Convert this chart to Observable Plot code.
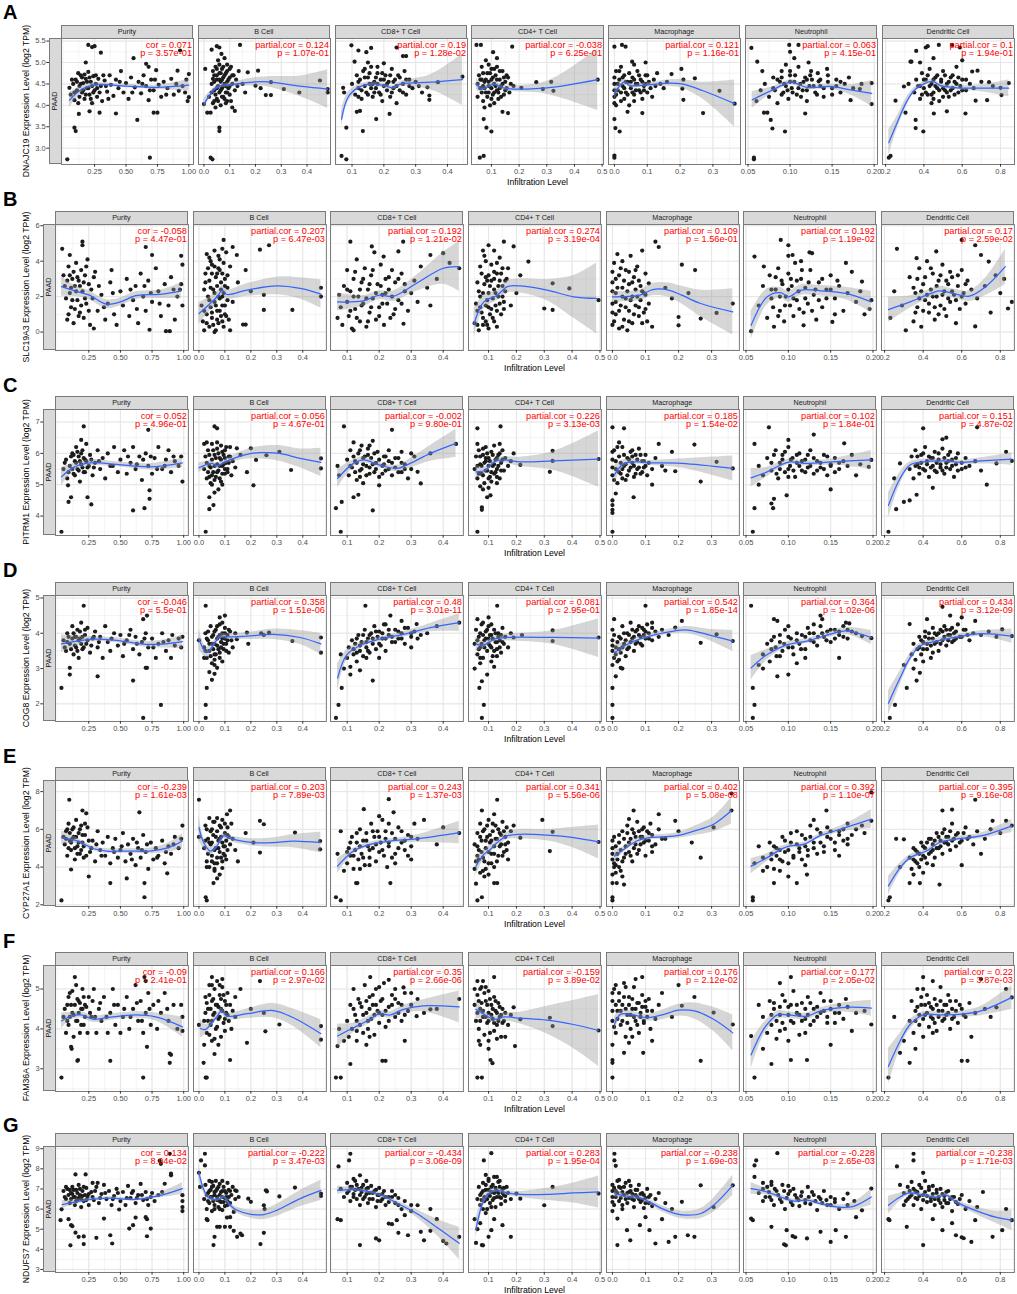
<!DOCTYPE html>
<html><head><meta charset="utf-8">
<script src="https://cdn.jsdelivr.net/npm/d3@7"></script>
<script src="https://cdn.jsdelivr.net/npm/@observablehq/plot@0.6"></script>
<style>
body{margin:0;background:#fff;font-family:"Liberation Sans",Arial,Helvetica,sans-serif;}
#fig{position:relative;width:1017px;height:1294px;overflow:hidden;background:#fff;}
#fig svg{position:absolute;overflow:visible;}
.t{position:absolute;white-space:nowrap;}
.strip{position:absolute;box-sizing:border-box;background:#D9D9D9;border:1px solid #7a7a7a;color:#1a1a1a;font-size:7.2px;text-align:center;line-height:11px;}
</style></head><body><div id="fig"></div>
<script>
// ---------- labels ----------
const letters = ["A","B","C","D","E","F","G"];
const genes = ["DNAJC19","SLC19A3","PITRM1","COG8","CYP27A1","FAM36A","NDUFS7"];
const cellTypes = ["Purity","B Cell","CD8+ T Cell","CD4+ T Cell","Macrophage","Neutrophil","Dendritic Cell"];
const cancer = "PAAD";
const xTitle = "Infiltration Level";

// ---------- scales / ticks ----------
const xDomains = [[-0.013,1.037],[-0.021,0.491],[0.048,0.463],[0.028,0.505],[-0.018,0.384],[0.047,0.204],[0.184,0.873]];
const xTicks = [[0.25,0.5,0.75,1.0],[0,0.1,0.2,0.3,0.4],[0.1,0.2,0.3,0.4],[0.1,0.2,0.3,0.4,0.5],[0,0.1,0.2,0.3],[0.05,0.1,0.15,0.2],[0.2,0.4,0.6,0.8]];
const xTickFormats = [".2f",".1f",".1f",".1f",".1f",".2f",".1f"];
const yDomains = [[2.62,5.56],[-1.04,6.07],[3.38,7.40],[1.50,5.07],[1.91,8.59],[2.43,5.59],[2.85,9.11]];
const yTicks = [[3,3.5,4,4.5,5,5.5],[0,2,4,6],[4,5,6,7],[2,3,4,5],[2,4,6,8],[3,4,5],[3,4,5,6,7,8,9]];
const yTickFormats = [".1f","d","d","d","d","d","d"];

// ---------- correlation annotations ----------
const corA = ["0.071","0.124","0.19","-0.038","0.121","0.063","0.1"];
const pA   = ["3.57e-01","1.07e-01","1.28e-02","6.25e-01","1.16e-01","4.15e-01","1.94e-01"];
const corB = ["-0.058","0.207","0.192","0.274","0.109","0.192","0.17"];
const pB   = ["4.47e-01","6.47e-03","1.21e-02","3.19e-04","1.56e-01","1.19e-02","2.59e-02"];
const corC = ["0.052","0.056","-0.002","0.226","0.185","0.102","0.151"];
const pC   = ["4.96e-01","4.67e-01","9.80e-01","3.13e-03","1.54e-02","1.84e-01","4.87e-02"];
const corD = ["-0.046","0.358","0.48","0.081","0.542","0.364","0.434"];
const pD   = ["5.5e-01","1.51e-06","3.01e-11","2.95e-01","1.85e-14","1.02e-06","3.12e-09"];
const corE = ["-0.239","0.203","0.243","0.341","0.402","0.392","0.395"];
const pE   = ["1.61e-03","7.89e-03","1.37e-03","5.56e-06","5.08e-08","1.10e-07","9.16e-08"];
const corF = ["-0.09","0.166","0.35","-0.159","0.176","0.177","0.22"];
const pF   = ["2.41e-01","2.97e-02","2.66e-06","3.89e-02","2.12e-02","2.05e-02","3.87e-03"];
const corG = ["0.134","-0.222","-0.434","0.283","-0.238","-0.228","-0.238"];
const pG   = ["8.04e-02","3.47e-03","3.06e-09","1.95e-04","1.69e-03","2.65e-03","1.71e-03"];

// ---------- points [x,y, x,y, ...] ----------
const ptsA0=[0.033,2.74,0.09,3.48,0.10,3.40,0.125,3.80,0.21,3.86,0.29,3.83,0.42,3.81,0.59,3.66,0.69,2.78,0.72,3.83,0.75,3.83,0.20,5.41,0.23,5.36,0.25,5.38,0.30,5.23,0.18,5.00,0.56,5.10,0.66,4.97,0.68,4.90,0.93,5.28,1.0,4.73,1.0,4.19,0.99,4.10,0.91,4.81,0.92,4.34,0.05,4.41,0.06,4.25,0.08,4.5,0.09,4.12,0.1,4.6,0.11,4.35,0.12,4.05,0.13,4.45,0.14,4.7,0.15,4.3,0.16,4.52,0.17,4.15,0.18,4.62,0.19,4.4,0.2,4.78,0.21,4.25,0.22,4.55,0.23,4.05,0.24,4.68,0.25,4.35,0.26,4.5,0.27,4.2,0.28,4.62,0.3,4.45,0.31,4.1,0.33,4.58,0.35,4.32,0.37,4.7,0.38,4.48,0.4,4.22,0.42,4.6,0.44,4.4,0.46,4.8,0.48,4.3,0.5,4.52,0.52,4.15,0.54,4.65,0.57,4.42,0.6,4.55,0.62,4.28,0.64,4.7,0.66,4.45,0.68,4.12,0.7,4.6,0.72,4.35,0.74,4.82,0.76,4.48,0.78,4.2,0.8,4.55,0.83,4.4,0.86,4.62,0.88,4.25,0.95,4.45,0.98,4.6,0.97,4.3,
 0.07,4.6,0.09,4.3,0.11,4.55,0.12,4.75,0.13,4.2,0.14,4.5,0.15,4.65,0.16,4.35,0.17,4.72,0.18,4.25,0.19,4.55,0.2,4.4,0.21,4.65,0.22,4.15,0.23,4.45,0.24,4.3,0.26,4.7,0.27,4.4,0.29,4.3,0.32,4.7,0.34,4.45,0.36,4.15,0.45,4.55,0.55,4.3,0.63,4.5,0.69,4.35,0.73,4.6,0.82,4.25,0.9,4.5];
const ptsA1=[0.026,2.78,0.033,2.74,0.06,3.48,0.06,3.40,0.013,3.83,0.026,3.83,0.12,3.87,0.14,5.41,0.17,4.77,0.2,4.46,0.21,4.81,0.22,4.4,0.24,4.24,0.26,4.24,0.26,4.54,0.31,4.38,0.37,4.30,0.45,4.58,0.48,4.38,0.48,4.30,0.0,4.03,0.03,5.3,0.05,5.38,0.06,5.35,0.005,4.85,0.02,4.2,0.03,4.5,0.035,4.05,0.04,4.7,0.04,4.35,0.045,4.9,0.05,4.15,0.05,4.6,0.055,4.45,0.055,5.05,0.06,4.3,0.06,4.75,0.065,4.55,0.065,4.0,0.07,4.4,0.07,4.85,0.075,4.2,0.075,4.65,0.08,4.5,0.08,5.1,0.085,4.3,0.085,4.75,0.09,4.55,0.09,4.1,0.095,4.4,0.1,4.65,0.1,4.25,0.105,4.9,0.11,4.5,0.11,3.95,0.115,4.7,0.12,4.35,0.125,4.6,0.13,4.45,0.135,4.8,0.15,4.5,0.16,4.3,0.045,3.95,0.035,4.62,0.068,5.2,0.09,4.95,
 0.03,4.3,0.035,4.8,0.04,4.55,0.045,4.25,0.05,4.85,0.05,4.4,0.055,4.1,0.06,4.6,0.06,4.95,0.065,4.35,0.07,4.2,0.07,4.6,0.075,4.45,0.075,4.9,0.08,4.15,0.08,4.7,0.085,4.45,0.09,4.3,0.09,4.8,0.095,4.6,0.1,4.45,0.105,4.1,0.11,4.7,0.04,4.1,0.065,4.75,0.085,4.05,0.05,4.7,0.1,4.85];
const ptsA2=[0.067,2.82,0.082,2.74,0.082,3.48,0.134,3.40,0.176,3.68,0.218,3.80,0.098,5.40,0.12,5.28,0.145,5.24,0.16,5.34,0.108,5.02,0.072,4.41,0.075,4.3,0.337,4.42,0.343,4.23,0.343,4.13,0.37,4.54,0.447,4.67,0.115,3.85,0.125,3.87,0.24,5.35,0.26,5.15,0.27,5.15,0.1,4.5,0.11,4.25,0.115,4.7,0.12,4.4,0.125,4.6,0.13,4.15,0.135,4.8,0.14,4.45,0.145,4.3,0.15,4.65,0.155,4.5,0.16,4.9,0.165,4.2,0.17,4.55,0.175,4.4,0.18,4.75,0.185,4.3,0.19,4.6,0.195,4.1,0.2,4.45,0.205,4.7,0.21,4.35,0.215,4.55,0.22,4.2,0.225,4.85,0.23,4.4,0.235,4.6,0.24,4.05,0.245,4.7,0.25,4.35,0.26,4.5,0.265,4.8,0.27,4.25,0.28,4.6,0.29,4.4,0.3,4.55,0.31,4.45,0.32,4.3,0.15,5.0,0.2,4.98,
 0.12,4.55,0.13,4.35,0.14,4.65,0.15,4.25,0.155,4.75,0.16,4.4,0.17,4.3,0.175,4.65,0.18,4.5,0.19,4.25,0.195,4.75,0.2,4.6,0.21,4.5,0.22,4.7,0.225,4.3,0.23,4.55,0.24,4.45,0.25,4.65,0.26,4.3,0.27,4.6,0.28,4.45,0.14,4.85,0.18,4.9,0.12,4.2,0.165,4.5];
const ptsA3=[0.058,2.78,0.072,2.82,0.072,3.68,0.082,3.48,0.1,3.39,0.046,5.41,0.062,5.41,0.175,5.37,0.106,5.24,0.208,4.41,0.262,4.54,0.286,4.38,0.316,4.55,0.324,4.34,0.484,4.60,0.05,4.5,0.08,5.05,0.12,5.1,0.14,3.85,0.16,3.82,0.05,4.2,0.055,4.7,0.06,4.4,0.065,4.9,0.07,4.1,0.075,4.55,0.08,4.3,0.085,4.75,0.09,4.45,0.095,4.0,0.1,4.6,0.1,4.85,0.105,4.25,0.11,4.5,0.115,4.7,0.12,4.35,0.125,4.15,0.13,4.6,0.135,4.45,0.14,4.8,0.145,4.25,0.15,4.55,0.155,4.4,0.16,4.65,0.165,4.3,0.17,4.5,0.18,4.45,0.09,4.95,0.065,4.6,0.11,4.05,0.075,3.95,0.12,4.9,
 0.06,4.6,0.065,4.3,0.07,4.75,0.075,4.4,0.08,4.6,0.085,4.2,0.09,4.55,0.09,4.3,0.095,4.75,0.1,4.4,0.105,4.65,0.11,4.3,0.11,4.85,0.115,4.45,0.12,4.6,0.125,4.3,0.13,4.8,0.135,4.2,0.14,4.5,0.145,4.65,0.15,4.35,0.155,4.7,0.07,4.45,0.1,4.15,0.13,4.4];
const ptsA4=[0.0,2.78,0.0,2.83,0.0,3.68,0.003,3.47,0.016,3.39,0.0,5.37,0.023,5.41,0.034,5.37,0.054,5.02,0.095,5.0,0.174,4.73,0.204,4.85,0.21,4.6,0.207,4.39,0.21,4.13,0.245,4.63,0.27,3.82,0.32,4.34,0.366,4.04,0.04,3.85,0.085,3.82,0.13,4.75,0.15,4.4,0.0,4.2,0.0,4.5,0.005,4.8,0.01,4.35,0.015,4.6,0.02,4.1,0.025,4.45,0.03,4.7,0.035,4.3,0.04,4.55,0.045,4.0,0.05,4.4,0.055,4.65,0.06,4.25,0.065,4.5,0.07,4.8,0.075,4.35,0.08,4.6,0.085,4.15,0.09,4.45,0.095,4.7,0.1,4.3,0.105,4.55,0.11,4.4,0.115,4.2,0.12,4.6,0.125,4.45,0.14,4.5,0.16,4.55,0.02,4.9,0.06,4.95,0.005,4.0,
 0.0,4.35,0.0,4.65,0.005,4.25,0.01,4.5,0.015,4.8,0.02,4.3,0.025,4.65,0.03,4.4,0.035,4.55,0.04,4.25,0.045,4.75,0.05,4.55,0.055,4.3,0.06,4.6,0.065,4.35,0.07,4.5,0.075,4.7,0.08,4.3,0.085,4.55,0.09,4.35,0.095,4.5,0.1,4.7,0.03,4.15,0.06,4.1,0.0,4.05];
const ptsA5=[0.057,2.78,0.057,2.74,0.054,5.34,0.061,5.02,0.067,4.8,0.069,3.83,0.073,3.83,0.077,3.66,0.079,3.46,0.094,3.39,0.099,5.41,0.11,5.41,0.1,5.25,0.105,5.1,0.122,5.0,0.118,3.81,0.144,4.85,0.172,4.12,0.183,4.38,0.197,4.52,0.197,4.03,0.134,4.56,0.06,4.1,0.065,4.35,0.07,4.5,0.075,4.2,0.08,4.65,0.082,4.35,0.085,4.05,0.088,4.55,0.09,4.8,0.092,4.3,0.095,4.45,0.098,4.15,0.1,4.7,0.102,4.4,0.105,4.55,0.108,4.25,0.11,4.9,0.112,4.5,0.115,4.35,0.118,4.65,0.12,4.1,0.123,4.45,0.126,4.6,0.13,4.3,0.133,4.75,0.136,4.45,0.14,4.2,0.145,4.55,0.15,4.4,0.155,4.6,0.16,4.3,0.165,4.5,0.17,4.65,0.175,4.4,0.185,4.5,0.095,4.95,0.125,4.8,
 0.08,4.4,0.085,4.6,0.09,4.25,0.093,4.5,0.097,4.35,0.1,4.55,0.103,4.3,0.106,4.7,0.11,4.4,0.113,4.2,0.116,4.55,0.12,4.35,0.124,4.7,0.128,4.45,0.132,4.25,0.136,4.6,0.14,4.4,0.145,4.7,0.15,4.25,0.155,4.45,0.1,4.8,0.12,4.6,0.09,4.65,0.16,4.55];
const ptsA6=[0.217,2.78,0.226,2.82,0.252,4.11,0.296,4.44,0.304,3.83,0.357,3.66,0.357,3.47,0.397,3.39,0.33,5.02,0.335,5.02,0.36,5.27,0.41,5.35,0.42,5.38,0.478,5.41,0.547,5.41,0.588,5.35,0.652,4.79,0.68,4.81,0.67,4.11,0.73,4.12,0.74,4.54,0.80,4.41,0.843,4.52,0.805,4.24,0.617,3.81,0.52,3.86,0.452,3.81,0.38,5.0,0.45,5.1,0.6,5.05,0.35,4.3,0.36,4.6,0.37,4.45,0.38,4.15,0.39,4.75,0.4,4.4,0.41,4.6,0.42,4.25,0.43,4.85,0.44,4.5,0.45,4.3,0.46,4.65,0.47,4.4,0.48,4.1,0.49,4.55,0.5,4.8,0.51,4.35,0.52,4.5,0.53,4.2,0.54,4.65,0.55,4.4,0.56,4.55,0.57,4.9,0.58,4.3,0.59,4.45,0.6,4.6,0.62,4.35,0.64,4.5,0.66,4.4,0.7,4.55,0.76,4.45,0.32,4.5,0.44,4.05,
 0.38,4.45,0.39,4.25,0.4,4.6,0.41,4.3,0.42,4.7,0.43,4.45,0.44,4.25,0.45,4.6,0.46,4.45,0.47,4.7,0.48,4.35,0.49,4.6,0.5,4.4,0.51,4.7,0.52,4.3,0.53,4.55,0.54,4.35,0.55,4.7,0.56,4.25,0.57,4.5,0.58,4.65,0.6,4.35,0.62,4.6,0.45,4.15,0.5,4.2];

const ptsB0=[0.2,5.1,0.2,4.9,0.04,4.7,0.1,4.35,0.43,3.5,0.29,0.2,0.7,4.8,0.75,4.35,0.86,0.05,0.89,0.05,0.73,0.13,0.98,4.3,0.99,3.8,0.98,2.7,0.99,1.5,0.05,3.2,0.06,2.6,0.07,1.9,0.08,0.7,0.09,3.7,0.1,2.2,0.11,1.4,0.12,3.0,0.13,0.5,0.14,2.6,0.15,3.9,0.16,1.8,0.17,2.9,0.18,1.1,0.19,3.5,0.2,2.3,0.21,0.8,0.22,3.2,0.23,1.6,0.24,4.1,0.25,2.7,0.26,0.4,0.28,1.9,0.3,3.4,0.32,1.2,0.35,2.1,0.38,0.7,0.4,1.6,0.42,2.8,0.45,1.0,0.47,0.4,0.5,2.3,0.52,1.5,0.55,3.0,0.57,0.9,0.6,1.8,0.62,2.6,0.64,0.5,0.66,3.3,0.68,2.0,0.7,1.2,0.72,2.9,0.75,1.7,0.78,3.6,0.8,2.3,0.82,0.9,0.85,2.7,0.88,1.5,0.9,3.1,0.93,0.7,0.95,2.0,0.97,2.4,
 0.08,2.9,0.09,1.0,0.1,3.2,0.11,2.5,0.12,1.8,0.13,3.4,0.14,1.3,0.15,2.3,0.16,3.1,0.17,0.9,0.18,2.6,0.19,1.5,0.21,2.8,0.22,1.9,0.23,3.7,0.25,1.2,0.27,2.4,0.29,3.1,0.33,2.6,0.37,1.4,0.44,2.2,0.58,2.4,0.63,1.3,0.69,2.6,0.74,2.2,0.81,1.6,0.92,2.4];
const ptsB1=[0.095,5.2,0.13,4.8,0.146,4.35,0.18,3.5,0.18,0.42,0.17,0.42,0.25,2.1,0.25,1.25,0.36,1.25,0.47,2.5,0.47,2.0,0.235,4.65,0.27,4.9,0.15,2.8,0.13,1.7,0.2,2.3,0.12,0.1,0.01,1.5,0.015,0.6,0.02,2.4,0.025,3.3,0.03,1.0,0.03,4.4,0.035,2.0,0.04,0.3,0.04,2.9,0.045,1.4,0.05,3.8,0.05,0.8,0.055,2.4,0.06,1.7,0.06,4.6,0.065,0.1,0.065,3.1,0.07,1.2,0.07,2.6,0.075,0.5,0.075,3.6,0.08,1.9,0.08,4.1,0.085,0.9,0.085,2.8,0.09,1.5,0.09,3.3,0.095,0.3,0.095,2.2,0.1,1.0,0.1,3.0,0.105,4.5,0.11,1.8,0.11,2.5,0.115,0.7,0.12,3.7,0.02,0.1,0.045,4.0,0.06,0.0,0.09,4.7,
 0.02,1.2,0.025,2.8,0.03,0.5,0.035,3.6,0.04,1.8,0.045,2.5,0.05,1.1,0.05,3.3,0.055,0.4,0.06,2.2,0.06,3.7,0.065,1.5,0.07,0.7,0.07,3.3,0.075,2.0,0.08,1.2,0.08,3.5,0.085,2.4,0.09,0.6,0.09,2.0,0.095,3.9,0.1,1.5,0.1,2.6,0.105,0.9,0.11,3.2,0.04,4.2,0.075,4.3];
const ptsB2=[0.11,5.1,0.177,4.83,0.214,4.26,0.26,4.55,0.275,5.1,0.36,4.35,0.4,4.45,0.45,3.6,0.36,1.5,0.3,2.2,0.276,0.47,0.12,0.1,0.07,0.8,0.075,2.1,0.08,1.4,0.085,0.4,0.09,2.6,0.1,1.7,0.1,3.5,0.105,0.9,0.11,2.3,0.115,0.2,0.12,3.0,0.125,1.3,0.13,4.1,0.135,2.0,0.14,0.6,0.145,2.8,0.15,1.6,0.155,3.6,0.16,0.3,0.165,2.4,0.17,1.1,0.175,3.2,0.18,1.9,0.185,4.5,0.19,0.7,0.195,2.7,0.2,1.4,0.205,3.8,0.21,2.1,0.215,0.4,0.22,3.0,0.225,1.6,0.23,2.4,0.24,3.5,0.245,1.0,0.25,2.8,0.26,1.8,0.27,3.3,0.28,2.3,0.29,1.2,0.31,2.9,0.32,1.7,0.33,3.7,0.35,2.5,0.38,3.0,0.42,3.9,
 0.1,2.4,0.11,1.2,0.12,2.0,0.125,3.4,0.13,0.8,0.14,2.4,0.145,1.5,0.15,3.0,0.16,1.9,0.165,0.6,0.17,2.7,0.175,1.4,0.18,3.5,0.19,2.2,0.2,0.9,0.205,2.6,0.21,1.6,0.22,2.2,0.23,3.1,0.235,0.8,0.24,2.0,0.25,1.3,0.26,3.0,0.27,1.6,0.28,2.7];
const ptsB3=[0.155,5.1,0.19,4.83,0.243,3.98,0.214,3.2,0.33,2.75,0.3,1.33,0.33,1.25,0.39,2.46,0.495,1.8,0.2,2.2,0.18,1.5,0.17,3.6,0.05,0.5,0.055,1.6,0.06,2.8,0.065,0.1,0.07,3.7,0.075,1.1,0.08,2.2,0.085,4.3,0.09,0.6,0.09,3.1,0.095,1.8,0.1,4.9,0.1,0.2,0.105,2.6,0.11,1.3,0.11,3.8,0.115,0.8,0.12,2.4,0.12,4.6,0.125,1.5,0.13,3.3,0.13,0.3,0.135,2.0,0.14,2.9,0.14,4.2,0.145,1.0,0.15,2.6,0.15,3.6,0.155,1.7,0.16,2.3,0.165,3.0,0.07,2.0,0.08,0.4,0.1,1.4,0.12,3.4,0.06,1.2,0.095,2.9,
 0.06,0.4,0.065,2.3,0.07,1.4,0.075,3.3,0.08,0.8,0.085,2.7,0.09,1.5,0.09,4.0,0.095,0.4,0.1,2.2,0.1,3.2,0.105,1.0,0.11,2.9,0.115,1.9,0.12,0.6,0.12,3.0,0.125,2.2,0.13,1.2,0.13,3.9,0.135,2.6,0.14,1.6,0.145,3.3,0.15,2.0,0.155,1.3,0.16,2.9,0.08,4.6];
const ptsB4=[0.13,5.1,0.14,4.8,0.21,3.8,0.25,3.5,0.2,0.85,0.2,0.38,0.267,0.76,0.315,1.08,0.364,1.61,0.11,2.75,0.16,2.5,0.18,1.9,0.23,2.2,0.12,0.3,0.0,0.4,0.0,1.6,0.0,2.8,0.005,3.9,0.01,1.0,0.01,2.2,0.015,4.4,0.02,0.2,0.02,3.2,0.025,1.5,0.03,2.5,0.03,4.0,0.035,0.7,0.04,1.9,0.04,3.5,0.045,0.1,0.05,2.7,0.05,1.2,0.055,4.3,0.06,2.0,0.06,0.5,0.065,3.1,0.07,1.5,0.07,2.4,0.075,3.7,0.08,0.9,0.08,2.9,0.085,1.8,0.09,2.3,0.09,4.6,0.095,1.1,0.1,3.3,0.1,2.1,0.105,0.6,0.11,1.6,
 0.0,1.1,0.0,2.3,0.0,3.4,0.005,0.6,0.01,1.7,0.01,3.0,0.015,2.5,0.02,1.2,0.025,3.6,0.03,0.3,0.03,2.0,0.035,2.9,0.04,1.4,0.045,2.3,0.05,0.6,0.05,3.4,0.055,1.8,0.06,2.8,0.065,1.0,0.07,3.5,0.075,2.0,0.08,1.4,0.085,2.6,0.09,0.5,0.095,2.2,0.1,1.3];
const ptsB5=[0.091,5.2,0.1,4.9,0.105,4.35,0.06,4.26,0.071,3.7,0.125,4.5,0.128,4.45,0.168,3.9,0.187,2.85,0.118,0.38,0.152,0.57,0.056,0.05,0.198,1.8,0.196,1.3,0.065,1.5,0.07,2.6,0.075,0.8,0.078,3.2,0.08,1.9,0.083,0.3,0.085,2.4,0.088,3.6,0.09,1.2,0.092,2.9,0.095,0.6,0.097,2.0,0.1,3.3,0.102,1.5,0.104,2.6,0.106,0.9,0.108,3.9,0.11,1.8,0.112,2.3,0.115,3.0,0.118,1.1,0.12,2.5,0.123,1.6,0.126,3.5,0.13,2.1,0.133,0.7,0.136,2.8,0.14,1.4,0.145,2.4,0.15,3.2,0.155,1.9,0.16,2.6,0.165,1.2,0.17,2.2,0.175,3.4,0.18,1.7,0.185,2.3,0.19,1.0,
 0.08,2.4,0.082,1.4,0.085,3.1,0.088,0.9,0.09,2.0,0.093,2.7,0.096,1.5,0.1,2.4,0.1,4.3,0.103,3.0,0.106,1.9,0.11,2.9,0.113,1.3,0.116,3.5,0.12,1.9,0.124,2.8,0.128,1.2,0.132,2.4,0.136,1.8,0.14,3.0,0.145,1.9,0.15,2.4,0.155,1.0,0.158,2.9,0.115,4.0];
const ptsB6=[0.264,4.7,0.366,4.17,0.468,4.55,0.6,5.2,0.67,4.9,0.7,4.35,0.776,3.2,0.74,3.98,0.86,1.7,0.84,1.33,0.67,0.32,0.31,0.1,0.23,0.8,0.25,2.3,0.29,1.5,0.33,3.1,0.35,0.6,0.36,2.2,0.37,1.4,0.38,3.6,0.39,0.3,0.4,2.7,0.41,1.8,0.42,4.0,0.43,1.1,0.44,2.4,0.45,3.3,0.46,0.7,0.47,2.0,0.48,2.9,0.49,1.5,0.5,3.8,0.51,2.3,0.52,0.9,0.53,2.7,0.54,1.7,0.55,3.1,0.56,2.1,0.57,0.5,0.58,2.6,0.59,1.3,0.6,3.5,0.61,2.2,0.62,1.6,0.63,2.9,0.65,2.4,0.68,1.9,0.72,2.6,0.75,1.1,0.8,2.2,0.82,3.0,
 0.35,2.5,0.36,1.1,0.37,3.0,0.38,1.9,0.39,2.3,0.4,1.2,0.41,3.1,0.42,2.1,0.43,1.6,0.44,3.6,0.45,2.0,0.46,1.4,0.47,2.6,0.48,1.0,0.49,3.2,0.5,2.1,0.51,1.3,0.52,2.9,0.53,1.9,0.54,3.4,0.55,2.3,0.57,1.8,0.58,3.2,0.6,2.0,0.62,2.7];

const ptsC0=[0.034,3.5,0.09,4.45,0.11,4.6,0.24,4.6,0.27,4.37,0.6,4.18,0.69,4.25,0.73,4.55,0.73,4.82,0.21,6.86,0.72,6.75,0.19,6.43,0.086,4.98,0.99,5.1,0.98,5.9,0.05,5.5,0.07,5.8,0.08,5.2,0.1,5.6,0.12,6.0,0.13,5.35,0.14,5.75,0.15,6.2,0.16,5.5,0.17,5.9,0.18,5.1,0.19,5.65,0.2,6.1,0.21,5.4,0.22,5.8,0.23,6.3,0.24,5.55,0.26,5.95,0.28,5.3,0.3,5.7,0.32,6.1,0.34,5.5,0.36,5.85,0.38,5.2,0.4,6.0,0.42,5.6,0.45,6.2,0.48,5.4,0.5,5.8,0.53,6.1,0.55,5.35,0.58,5.7,0.6,6.2,0.62,5.5,0.65,5.9,0.67,5.15,0.7,6.0,0.72,5.6,0.75,5.35,0.77,5.85,0.8,6.2,0.83,5.5,0.86,5.8,0.88,6.1,0.9,5.4,0.93,5.75,0.96,5.6,
 0.06,5.7,0.09,5.4,0.11,5.9,0.12,5.5,0.13,5.95,0.14,5.3,0.15,5.7,0.16,6.05,0.17,5.45,0.18,5.75,0.19,6.0,0.2,5.55,0.21,5.85,0.22,5.4,0.23,5.75,0.25,5.6,0.27,5.8,0.29,5.55,0.33,5.75,0.44,5.6,0.56,5.9,0.63,5.65,0.68,5.8,0.74,5.9,0.79,5.5,0.85,5.6,0.92,5.9];
const ptsC1=[0.026,3.5,0.04,4.22,0.056,4.35,0.04,4.6,0.06,6.86,0.07,6.8,0.146,6.16,0.2,6.16,0.22,5.79,0.21,4.98,0.26,5.94,0.31,6.05,0.355,5.47,0.47,5.84,0.47,5.52,0.185,5.4,0.06,4.75,0.075,4.85,0.02,6.3,0.03,6.35,0.02,5.5,0.025,5.9,0.03,5.2,0.035,6.1,0.04,5.6,0.045,5.05,0.05,5.8,0.05,6.3,0.055,5.4,0.06,5.95,0.065,5.25,0.07,5.65,0.07,6.15,0.075,5.45,0.08,5.85,0.085,5.1,0.085,6.25,0.09,5.6,0.095,5.95,0.1,5.35,0.1,6.1,0.105,5.7,0.11,5.5,0.115,5.9,0.12,6.2,0.125,5.3,0.13,5.75,0.14,5.55,0.16,5.95,0.05,5.0,0.09,5.0,
 0.03,5.7,0.035,5.4,0.04,5.95,0.045,5.55,0.05,5.3,0.055,6.1,0.06,5.6,0.06,5.15,0.065,5.85,0.07,5.4,0.075,6.0,0.08,5.6,0.08,5.2,0.085,5.8,0.09,5.35,0.09,6.05,0.095,5.65,0.1,5.85,0.1,5.5,0.105,6.2,0.11,5.4,0.115,5.7,0.12,5.9,0.07,6.35,0.04,5.25];
const ptsC2=[0.08,3.5,0.065,4.25,0.083,4.45,0.12,4.6,0.135,4.68,0.18,4.18,0.09,6.86,0.24,6.75,0.36,6.0,0.44,6.3,0.32,5.41,0.33,5.04,0.2,4.98,0.07,5.6,0.075,5.3,0.27,6.05,0.3,6.0,0.1,5.8,0.105,5.3,0.11,6.1,0.115,5.55,0.12,6.35,0.125,5.75,0.13,5.15,0.135,6.0,0.14,5.45,0.145,6.25,0.15,5.65,0.155,5.9,0.16,5.3,0.165,6.15,0.17,5.55,0.175,5.85,0.18,6.4,0.185,5.4,0.19,5.7,0.195,6.05,0.2,5.25,0.21,5.6,0.215,5.9,0.22,5.45,0.23,5.75,0.24,5.3,0.25,5.55,0.26,5.85,0.27,5.4,0.28,5.65,0.29,5.2,0.3,5.5,0.31,5.9,0.23,6.1,0.15,5.05,
 0.11,5.6,0.12,5.9,0.125,5.4,0.13,5.7,0.14,6.1,0.145,5.5,0.15,5.85,0.16,5.6,0.165,5.95,0.17,5.35,0.18,5.65,0.185,6.0,0.19,5.5,0.2,5.8,0.21,5.35,0.215,5.65,0.22,5.9,0.23,5.5,0.24,5.7,0.25,5.85,0.26,5.4,0.27,5.7,0.28,5.5,0.14,5.25,0.17,6.25];
const ptsC3=[0.06,3.5,0.076,4.28,0.076,4.2,0.095,4.6,0.107,4.66,0.06,6.8,0.143,6.86,0.19,6.0,0.214,5.63,0.33,6.08,0.33,5.76,0.32,5.41,0.495,5.82,0.08,4.85,0.1,4.9,0.06,6.3,0.14,6.3,0.05,5.5,0.055,5.9,0.06,5.2,0.065,6.1,0.07,5.65,0.075,5.35,0.08,5.95,0.085,5.05,0.09,5.75,0.09,6.2,0.095,5.45,0.1,5.85,0.105,5.25,0.11,6.05,0.115,5.6,0.12,5.35,0.12,6.25,0.125,5.8,0.13,5.5,0.135,5.95,0.14,5.2,0.145,5.7,0.15,6.1,0.155,5.45,0.16,5.85,0.17,5.6,0.18,5.75,0.07,4.95,0.13,5.05,
 0.06,5.6,0.065,5.35,0.07,5.9,0.075,5.6,0.08,5.3,0.085,5.7,0.09,5.45,0.095,6.0,0.1,5.6,0.1,5.2,0.105,5.75,0.11,5.4,0.115,5.95,0.12,5.65,0.125,5.4,0.13,5.85,0.135,5.6,0.14,6.0,0.145,5.45,0.15,5.8,0.08,6.15,0.11,5.1,0.09,5.85,0.13,5.25];
const ptsC4=[0.0,3.5,0.0,4.1,0.0,4.2,0.0,4.35,0.0,4.5,0.01,4.72,0.064,4.6,0.0,6.83,0.035,6.8,0.14,6.3,0.18,6.05,0.19,5.43,0.248,6.28,0.267,5.1,0.315,5.73,0.364,5.52,0.12,5.0,0.02,6.35,0.0,5.3,0.0,5.8,0.005,6.1,0.01,5.5,0.015,5.05,0.02,5.9,0.025,5.35,0.03,6.2,0.035,5.6,0.04,5.15,0.045,5.85,0.05,5.45,0.055,6.05,0.06,5.7,0.065,5.25,0.07,5.95,0.075,5.5,0.08,6.15,0.085,5.35,0.09,5.75,0.095,5.55,0.1,5.95,0.105,5.3,0.11,5.7,0.12,5.5,0.13,5.85,0.15,5.6,0.16,5.45,
 0.0,5.55,0.0,6.05,0.005,5.15,0.01,5.75,0.015,6.2,0.02,5.4,0.025,5.7,0.03,5.5,0.035,5.95,0.04,5.65,0.045,5.3,0.05,5.8,0.055,5.55,0.06,6.1,0.065,5.6,0.07,5.35,0.075,5.8,0.08,5.55,0.085,5.95,0.09,5.4,0.095,5.75,0.1,5.6,0.03,5.2,0.06,5.9];
const ptsC5=[0.058,3.5,0.06,4.25,0.08,4.4,0.082,4.25,0.083,4.55,0.098,4.66,0.077,6.83,0.1,6.43,0.13,6.6,0.166,6.32,0.198,5.79,0.195,5.57,0.06,6.3,0.065,5.0,0.15,4.85,0.18,5.3,0.065,5.6,0.07,5.3,0.075,5.85,0.08,5.45,0.085,6.1,0.088,5.2,0.09,5.7,0.093,5.95,0.096,5.4,0.1,6.2,0.102,5.6,0.105,5.85,0.108,5.25,0.11,5.7,0.113,6.0,0.116,5.45,0.12,5.8,0.123,5.55,0.126,6.1,0.13,5.35,0.134,5.75,0.138,5.55,0.142,5.95,0.146,5.3,0.15,5.65,0.155,5.85,0.16,5.5,0.165,5.75,0.17,5.6,0.175,5.95,0.185,5.65,
 0.08,5.7,0.083,5.95,0.086,5.35,0.09,5.5,0.093,5.8,0.096,6.05,0.1,5.5,0.103,5.8,0.106,5.45,0.11,5.95,0.113,5.6,0.116,5.75,0.12,5.4,0.123,5.95,0.126,5.6,0.13,5.85,0.134,5.45,0.138,5.7,0.142,5.5,0.146,5.9,0.15,5.6,0.155,5.4,0.16,5.7,0.1,5.25];
const ptsC6=[0.22,3.5,0.26,4.22,0.3,4.45,0.33,4.5,0.366,4.68,0.4,6.8,0.68,6.83,0.73,5.0,0.83,6.05,0.78,5.68,0.86,5.76,0.28,5.68,0.25,5.2,0.45,4.9,0.5,6.45,0.52,6.5,0.33,5.5,0.34,5.9,0.35,5.2,0.36,6.1,0.37,5.65,0.38,5.35,0.39,5.95,0.4,5.5,0.41,6.2,0.42,5.75,0.43,5.25,0.44,5.85,0.45,5.6,0.46,6.05,0.47,5.4,0.48,5.8,0.49,5.55,0.5,6.15,0.51,5.35,0.52,5.7,0.53,5.95,0.54,5.5,0.55,5.8,0.56,5.25,0.57,5.65,0.58,6.0,0.6,5.5,0.62,5.85,0.64,5.6,0.67,5.75,0.7,5.45,
 0.36,5.6,0.37,5.9,0.38,5.55,0.39,5.7,0.4,6.0,0.41,5.45,0.42,5.65,0.43,5.9,0.44,5.55,0.45,5.85,0.46,5.45,0.47,5.7,0.48,6.0,0.49,5.65,0.5,5.45,0.51,5.85,0.52,5.55,0.53,5.75,0.54,6.05,0.55,5.6,0.57,5.85,0.58,5.45,0.6,5.7,0.62,5.55];

const ptsD0=[0.034,2.45,0.1,2.83,0.1,3.02,0.21,4.78,0.32,2.78,0.6,2.66,0.7,3.02,0.71,3.02,0.82,1.97,0.68,1.6,0.68,4.4,0.71,4.5,0.99,3.9,0.98,3.6,0.9,3.3,0.05,3.8,0.07,3.5,0.08,4.0,0.1,3.7,0.12,4.2,0.13,3.4,0.14,3.9,0.15,3.6,0.16,4.1,0.17,3.3,0.18,3.85,0.19,4.3,0.2,3.55,0.22,3.95,0.23,3.7,0.24,4.15,0.26,3.45,0.28,3.85,0.3,4.05,0.32,3.6,0.34,3.9,0.36,3.3,0.38,4.2,0.4,3.75,0.42,3.5,0.45,4.0,0.48,3.65,0.5,3.95,0.52,3.35,0.55,3.8,0.58,4.1,0.6,3.55,0.62,3.9,0.65,3.4,0.67,3.75,0.7,4.0,0.72,3.6,0.75,3.85,0.78,3.3,0.8,3.7,0.83,4.0,0.86,3.5,0.88,3.8,0.93,3.65,0.96,3.85,
 0.06,3.6,0.08,3.75,0.09,3.9,0.11,3.55,0.12,3.85,0.13,4.0,0.14,3.65,0.15,3.9,0.16,3.5,0.17,3.8,0.18,4.05,0.19,3.7,0.2,3.9,0.21,3.6,0.22,4.1,0.24,3.8,0.27,3.65,0.29,3.9,0.33,3.75,0.43,3.85,0.53,3.7,0.57,3.95,0.63,3.7,0.69,3.85,0.76,3.6,0.84,3.75,0.91,3.95];
const ptsD1=[0.026,1.6,0.026,1.97,0.03,2.45,0.05,2.68,0.07,3.02,0.026,4.78,0.146,3.83,0.185,4.02,0.24,4.0,0.25,3.95,0.27,4.02,0.36,3.78,0.47,3.88,0.47,3.45,0.19,3.7,0.04,2.9,0.06,2.85,0.02,3.3,0.0,3.8,0.1,4.5,0.08,4.45,0.02,3.6,0.025,4.0,0.03,3.3,0.035,3.8,0.04,3.5,0.045,4.2,0.05,3.15,0.05,3.7,0.055,3.95,0.06,3.4,0.065,4.1,0.07,3.65,0.075,3.9,0.08,3.3,0.08,4.25,0.085,3.75,0.09,4.0,0.095,3.55,0.1,3.85,0.1,4.15,0.105,3.7,0.11,3.95,0.115,3.45,0.12,4.05,0.125,3.8,0.13,3.6,0.14,4.0,0.06,3.1,0.09,3.2,
 0.025,3.5,0.03,3.85,0.035,4.05,0.04,3.7,0.045,3.35,0.05,3.9,0.055,3.55,0.06,4.05,0.06,3.7,0.065,3.4,0.07,3.85,0.07,4.2,0.075,3.55,0.08,3.95,0.085,3.6,0.09,3.85,0.09,4.3,0.095,3.7,0.1,4.0,0.105,3.5,0.11,3.8,0.115,4.1,0.06,3.25,0.08,3.45];
const ptsD2=[0.065,1.6,0.073,1.97,0.083,2.45,0.11,2.83,0.18,2.66,0.157,4.78,0.235,4.5,0.317,4.26,0.45,4.3,0.08,3.4,0.09,3.0,0.3,3.6,0.35,4.0,0.38,4.2,0.27,4.35,0.1,3.3,0.105,3.6,0.11,3.05,0.115,3.8,0.12,3.4,0.125,3.7,0.13,3.2,0.135,3.95,0.14,3.5,0.145,3.75,0.15,3.35,0.155,4.1,0.16,3.6,0.165,3.85,0.17,3.45,0.175,4.0,0.18,3.7,0.185,4.2,0.19,3.55,0.195,3.9,0.2,4.05,0.205,3.65,0.21,3.85,0.215,4.25,0.22,3.5,0.23,3.95,0.24,3.75,0.25,4.1,0.26,3.85,0.27,4.0,0.28,3.7,0.29,4.15,0.3,3.9,0.31,4.05,0.33,3.95,0.2,3.3,0.14,2.95,
 0.12,3.55,0.13,3.85,0.14,3.65,0.15,3.95,0.16,3.75,0.165,3.5,0.17,3.95,0.18,3.85,0.19,4.05,0.2,3.7,0.21,4.0,0.22,3.85,0.23,4.1,0.24,3.9,0.25,3.75,0.26,4.05,0.27,3.85,0.28,4.15,0.3,4.0,0.32,3.85,0.16,3.3,0.22,4.25,0.13,3.45];
const ptsD3=[0.076,1.6,0.083,1.97,0.067,2.45,0.076,2.64,0.095,2.83,0.131,4.78,0.19,3.88,0.22,3.95,0.33,4.08,0.33,3.78,0.495,3.88,0.06,4.4,0.1,4.45,0.05,3.0,0.12,3.05,0.05,3.7,0.055,4.1,0.06,3.4,0.065,3.9,0.07,3.6,0.075,4.25,0.08,3.3,0.085,3.8,0.09,4.05,0.095,3.5,0.1,3.85,0.1,4.2,0.105,3.65,0.11,3.95,0.115,3.35,0.12,4.1,0.125,3.75,0.13,3.55,0.135,4.0,0.14,3.8,0.145,3.45,0.15,4.15,0.155,3.7,0.16,3.9,0.17,3.6,0.18,4.0,0.07,3.15,0.11,3.2,
 0.06,3.8,0.065,3.55,0.07,4.0,0.075,3.7,0.08,3.95,0.085,3.6,0.09,3.85,0.095,4.1,0.1,3.7,0.105,3.95,0.11,3.6,0.115,3.85,0.12,3.5,0.125,4.0,0.13,3.75,0.135,3.9,0.14,3.6,0.145,3.95,0.15,3.75,0.08,4.3,0.11,4.25,0.07,3.3,0.13,3.35];
const ptsD4=[0.0,1.6,0.0,1.97,0.0,2.45,0.01,2.78,0.025,3.02,0.1,4.78,0.19,4.16,0.21,4.35,0.267,3.73,0.315,3.97,0.364,3.78,0.0,3.1,0.005,3.3,0.15,4.1,0.17,3.95,0.12,4.3,0.0,3.5,0.0,3.8,0.0,4.1,0.005,4.4,0.01,3.6,0.015,3.2,0.02,3.9,0.025,3.45,0.03,4.2,0.035,3.7,0.04,3.35,0.045,4.0,0.05,3.6,0.055,4.3,0.06,3.85,0.065,3.5,0.07,4.05,0.075,3.75,0.08,4.2,0.085,3.9,0.09,3.65,0.095,4.1,0.1,3.85,0.105,4.25,0.11,4.0,0.12,3.8,0.13,4.05,0.14,3.9,0.03,3.0,
 0.0,3.65,0.005,3.95,0.01,3.4,0.015,3.75,0.02,3.55,0.025,3.85,0.03,3.6,0.035,4.0,0.04,3.8,0.045,3.55,0.05,3.95,0.055,3.75,0.06,4.1,0.065,3.9,0.07,3.7,0.075,4.1,0.08,3.95,0.085,3.7,0.09,4.15,0.095,3.95,0.1,4.05,0.11,3.85,0.12,4.15,0.02,3.25];
const ptsD5=[0.058,1.6,0.06,1.97,0.058,2.45,0.056,4.78,0.087,2.78,0.1,2.83,0.083,4.4,0.087,4.35,0.138,4.5,0.168,4.3,0.187,3.92,0.198,3.86,0.172,4.28,0.065,3.1,0.07,3.0,0.16,3.3,0.07,3.4,0.075,3.7,0.078,3.2,0.08,3.55,0.083,3.9,0.086,3.35,0.09,3.75,0.093,3.5,0.096,4.1,0.1,3.6,0.103,3.85,0.106,3.4,0.11,4.0,0.113,3.7,0.116,3.95,0.12,3.55,0.123,4.15,0.126,3.8,0.13,4.0,0.134,3.65,0.138,4.2,0.142,3.9,0.146,4.05,0.15,3.75,0.155,4.1,0.16,3.95,0.165,4.2,0.17,3.85,0.175,4.05,0.18,4.0,0.11,3.15,0.14,4.4,
 0.08,3.8,0.085,3.6,0.09,3.95,0.095,3.7,0.1,3.9,0.105,3.6,0.11,3.8,0.115,3.55,0.12,3.9,0.125,4.0,0.13,3.75,0.135,3.9,0.14,4.0,0.145,3.8,0.15,4.1,0.155,3.85,0.16,4.05,0.165,3.9,0.17,4.1,0.09,3.35,0.12,3.3,0.1,4.2,0.13,4.25];
const ptsD6=[0.227,1.6,0.254,1.97,0.315,2.45,0.366,2.66,0.383,2.88,0.5,4.75,0.33,4.26,0.54,4.5,0.67,4.35,0.81,4.11,0.86,3.92,0.35,3.0,0.3,3.1,0.42,4.4,0.6,4.45,0.34,3.4,0.35,3.7,0.36,3.25,0.37,3.55,0.38,3.9,0.39,3.4,0.4,3.75,0.41,4.05,0.42,3.55,0.43,3.85,0.44,3.3,0.45,4.15,0.46,3.7,0.47,3.95,0.48,3.5,0.49,4.1,0.5,3.8,0.51,4.2,0.52,3.65,0.53,3.95,0.54,4.1,0.55,3.75,0.56,4.0,0.57,3.85,0.58,4.25,0.6,3.9,0.62,4.1,0.64,3.8,0.66,4.0,0.7,3.95,0.74,4.05,0.78,3.9,
 0.38,3.6,0.39,3.8,0.4,3.55,0.41,3.9,0.42,3.7,0.43,4.0,0.44,3.65,0.45,3.85,0.46,4.0,0.47,3.75,0.48,4.0,0.49,3.7,0.5,4.05,0.51,3.9,0.52,4.1,0.53,3.8,0.54,3.95,0.55,4.15,0.56,3.8,0.57,4.05,0.59,3.9,0.61,4.1,0.63,3.95,0.4,3.2,0.45,3.45];

const ptsE0=[0.034,2.23,0.096,7.57,0.2,7.0,0.23,6.85,0.65,6.9,0.69,2.4,0.69,3.15,0.11,3.87,0.25,3.5,0.42,3.15,0.55,3.4,0.87,3.67,0.99,6.2,0.98,5.5,0.05,5.6,0.06,5.2,0.07,5.9,0.08,4.6,0.09,6.3,0.1,5.4,0.11,4.9,0.12,6.0,0.13,5.6,0.14,4.4,0.15,6.5,0.16,5.1,0.17,5.8,0.18,4.7,0.19,6.2,0.2,5.3,0.21,4.5,0.22,5.7,0.24,6.1,0.26,4.8,0.28,5.4,0.3,4.3,0.32,5.9,0.34,4.9,0.36,5.3,0.38,4.6,0.4,5.6,0.42,4.2,0.44,5.0,0.46,5.5,0.48,4.5,0.5,4.9,0.52,5.8,0.54,4.3,0.56,5.2,0.58,4.7,0.6,5.5,0.62,4.1,0.64,5.0,0.66,4.5,0.68,5.7,0.7,4.8,0.72,3.9,0.74,5.3,0.76,4.4,0.78,5.0,0.8,4.6,0.83,5.4,0.85,4.2,0.88,5.1,0.9,4.7,0.93,5.6,0.96,5.0,
 0.07,5.5,0.08,6.0,0.09,5.0,0.1,5.8,0.11,5.3,0.12,5.5,0.13,6.1,0.14,5.0,0.15,5.6,0.16,4.7,0.17,5.3,0.18,6.0,0.19,4.9,0.2,5.7,0.21,5.1,0.22,6.3,0.23,4.6,0.25,5.4,0.27,5.0,0.31,5.2,0.35,4.6,0.45,4.8,0.51,5.1,0.59,4.4,0.63,5.3,0.67,4.9,0.71,5.2,0.79,4.5,0.86,4.8,0.92,5.2];
const ptsE1=[0.0,7.57,0.026,2.4,0.03,2.23,0.056,3.15,0.07,3.4,0.12,7.0,0.108,6.8,0.235,6.45,0.25,6.27,0.21,5.3,0.235,4.77,0.37,5.83,0.467,5.38,0.467,4.94,0.0,5.6,0.15,4.3,0.18,5.8,0.08,3.6,0.02,5.0,0.025,6.2,0.03,4.3,0.035,5.5,0.04,6.6,0.04,4.0,0.045,5.2,0.05,4.6,0.05,6.0,0.055,5.7,0.06,4.2,0.06,6.4,0.065,5.0,0.07,5.9,0.07,4.5,0.075,5.4,0.08,6.2,0.08,4.8,0.085,5.6,0.09,4.3,0.09,6.5,0.095,5.1,0.1,5.8,0.1,4.6,0.105,5.4,0.11,6.1,0.11,4.9,0.115,5.6,0.12,5.2,0.125,6.3,0.13,5.5,0.14,4.9,0.06,3.8,
 0.025,5.4,0.03,6.0,0.035,4.7,0.04,5.3,0.045,5.9,0.05,4.3,0.05,5.3,0.055,6.4,0.06,4.9,0.065,5.6,0.07,4.2,0.07,6.6,0.075,5.0,0.08,5.5,0.085,4.5,0.085,6.1,0.09,5.3,0.095,4.7,0.1,6.3,0.1,5.1,0.105,4.4,0.11,5.7,0.03,4.0,0.06,3.9,0.09,3.95];
const ptsE2=[0.065,2.4,0.08,2.23,0.128,3.15,0.132,3.15,0.235,3.15,0.152,7.07,0.23,7.6,0.245,6.9,0.34,6.5,0.45,5.8,0.07,4.7,0.08,5.9,0.09,3.8,0.38,5.2,0.4,6.1,0.3,4.4,0.1,4.2,0.105,5.0,0.11,4.6,0.115,5.6,0.12,3.9,0.125,4.9,0.13,5.3,0.135,4.4,0.14,6.0,0.145,4.7,0.15,5.4,0.155,4.1,0.16,5.8,0.165,5.1,0.17,4.5,0.175,6.3,0.18,5.0,0.185,5.6,0.19,4.3,0.195,5.9,0.2,4.8,0.205,5.3,0.21,6.5,0.215,4.6,0.22,5.5,0.225,4.0,0.23,5.1,0.24,5.8,0.25,4.7,0.26,6.1,0.27,5.3,0.28,4.9,0.29,5.7,0.3,5.1,0.31,6.3,0.32,5.5,0.25,4.2,0.2,6.7,
 0.1,4.8,0.11,5.3,0.12,4.6,0.13,5.8,0.14,5.1,0.15,4.5,0.16,5.4,0.17,4.9,0.18,5.9,0.19,5.2,0.2,5.6,0.21,4.9,0.22,5.9,0.23,5.3,0.24,4.5,0.25,5.5,0.26,5.0,0.27,5.9,0.28,5.4,0.29,4.6,0.3,5.6,0.14,3.9,0.17,4.1,0.23,6.3];
const ptsE3=[0.06,2.23,0.076,2.4,0.055,3.12,0.12,3.15,0.131,3.15,0.131,7.57,0.076,7.0,0.12,6.8,0.19,6.2,0.214,5.56,0.293,6.5,0.33,5.87,0.32,4.85,0.495,5.33,0.05,3.9,0.06,4.6,0.17,4.4,0.05,5.2,0.055,4.3,0.06,5.8,0.065,4.9,0.07,3.7,0.07,6.3,0.075,5.4,0.08,4.5,0.085,6.0,0.09,5.0,0.09,3.9,0.095,5.6,0.1,4.2,0.1,6.5,0.105,5.3,0.11,4.7,0.115,5.9,0.12,5.1,0.12,4.0,0.125,6.2,0.13,5.5,0.135,4.6,0.14,5.8,0.145,5.2,0.15,6.4,0.155,4.8,0.16,5.6,0.165,6.1,0.17,5.3,0.18,5.9,0.085,3.5,
 0.06,5.1,0.065,4.4,0.07,5.6,0.075,4.8,0.08,5.9,0.085,4.3,0.09,5.4,0.095,6.2,0.1,4.8,0.105,5.7,0.11,4.2,0.11,5.4,0.115,6.3,0.12,4.7,0.125,5.5,0.13,4.3,0.135,6.0,0.14,5.1,0.145,5.7,0.15,4.6,0.155,5.9,0.16,5.2,0.165,4.9,0.08,3.8,0.1,3.6];
const ptsE4=[0.0,2.23,0.0,2.4,0.0,3.15,0.013,3.15,0.035,3.07,0.064,7.0,0.05,6.55,0.14,6.8,0.19,6.45,0.24,5.3,0.267,4.5,0.306,6.1,0.36,7.9,0.36,7.0,0.0,3.6,0.005,4.0,0.2,5.9,0.16,5.5,0.12,4.8,0.0,4.4,0.0,5.0,0.005,5.6,0.01,4.1,0.015,4.7,0.02,5.3,0.025,3.8,0.03,5.9,0.035,4.5,0.04,5.1,0.045,6.2,0.05,4.8,0.055,5.5,0.06,4.3,0.065,5.8,0.07,5.2,0.075,6.4,0.08,4.9,0.085,5.6,0.09,6.0,0.095,5.3,0.1,4.6,0.105,5.9,0.11,5.4,0.115,6.3,0.12,5.7,0.13,5.2,0.14,6.0,0.15,5.5,0.02,4.0,
 0.0,4.7,0.0,5.4,0.005,4.2,0.01,5.1,0.015,4.4,0.02,5.7,0.025,4.9,0.03,4.3,0.035,5.5,0.04,4.7,0.045,5.8,0.05,5.3,0.055,4.6,0.06,6.0,0.065,5.0,0.07,5.6,0.075,4.7,0.08,5.9,0.085,5.2,0.09,5.6,0.095,6.1,0.1,5.4,0.11,5.8,0.12,5.1,0.01,3.7,0.03,3.5];
const ptsE5=[0.058,2.23,0.058,2.4,0.083,3.15,0.11,3.15,0.198,7.96,0.198,6.45,0.145,7.0,0.13,6.5,0.122,3.6,0.187,6.2,0.06,4.2,0.065,5.1,0.07,3.8,0.17,5.2,0.16,4.6,0.07,4.5,0.075,4.0,0.078,5.3,0.08,4.7,0.083,3.9,0.086,5.0,0.09,4.4,0.093,5.6,0.096,4.8,0.1,4.2,0.103,5.3,0.106,4.6,0.11,5.9,0.113,5.0,0.116,4.4,0.12,5.5,0.123,4.9,0.126,6.2,0.13,5.3,0.134,4.7,0.138,5.8,0.142,5.1,0.146,6.1,0.15,5.5,0.155,4.9,0.16,5.9,0.165,5.4,0.17,6.3,0.175,5.7,0.18,6.0,0.19,5.8,0.1,3.5,0.12,4.1,
 0.08,4.4,0.083,5.1,0.086,4.6,0.09,4.9,0.093,4.3,0.096,5.4,0.1,4.9,0.103,5.8,0.106,4.5,0.11,5.2,0.113,4.8,0.116,5.7,0.12,5.1,0.123,4.6,0.126,5.6,0.13,5.0,0.134,6.0,0.138,5.3,0.142,4.8,0.146,5.6,0.15,5.9,0.155,5.3,0.16,5.7,0.165,6.0,0.17,5.5,0.09,3.8];
const ptsE6=[0.22,2.23,0.227,2.4,0.33,3.15,0.383,3.15,0.485,3.07,0.67,7.57,0.5,7.0,0.55,7.05,0.76,6.45,0.83,6.45,0.86,6.2,0.3,5.47,0.28,4.0,0.26,5.5,0.35,3.6,0.6,4.1,0.7,4.7,0.33,4.5,0.34,3.9,0.35,5.0,0.36,4.3,0.37,4.8,0.38,4.0,0.39,5.3,0.4,4.6,0.41,5.0,0.42,4.2,0.43,5.5,0.44,4.8,0.45,5.2,0.46,4.5,0.47,5.8,0.48,5.0,0.49,5.4,0.5,4.7,0.51,6.0,0.52,5.3,0.53,5.6,0.54,4.9,0.55,6.3,0.56,5.5,0.57,5.1,0.58,5.8,0.6,5.4,0.62,6.1,0.64,5.6,0.66,5.2,0.68,5.9,0.72,5.5,0.75,6.0,0.8,5.8,
 0.35,4.4,0.36,4.9,0.37,4.2,0.38,4.7,0.39,4.4,0.4,5.1,0.41,4.5,0.42,5.3,0.43,4.7,0.44,5.5,0.45,4.9,0.46,5.4,0.47,5.0,0.48,5.6,0.49,5.1,0.5,5.8,0.51,5.3,0.52,5.6,0.53,5.2,0.54,5.9,0.55,5.4,0.57,5.7,0.59,5.3,0.61,5.8,0.63,5.5,0.4,3.7,0.45,4.1];

const ptsF0=[0.034,2.78,0.68,2.78,0.16,3.2,0.165,3.22,0.42,3.2,0.89,3.15,0.89,3.38,0.9,3.35,0.11,3.55,0.115,3.5,0.71,3.55,0.14,5.3,0.69,5.3,0.7,5.2,0.99,3.95,0.99,4.3,0.98,4.6,0.05,4.3,0.07,3.9,0.08,4.6,0.09,4.1,0.1,4.9,0.12,4.4,0.13,3.8,0.15,5.1,0.16,4.2,0.17,4.7,0.18,3.9,0.19,4.5,0.2,5.0,0.21,4.1,0.22,4.6,0.24,3.9,0.25,4.8,0.27,4.3,0.29,5.0,0.31,3.9,0.33,4.5,0.35,4.2,0.37,4.8,0.4,3.9,0.42,4.4,0.44,5.0,0.46,4.1,0.48,4.6,0.5,3.9,0.52,4.3,0.55,4.8,0.57,4.0,0.6,4.5,0.62,5.1,0.64,4.2,0.66,4.7,0.68,3.9,0.7,4.4,0.72,4.9,0.74,4.1,0.76,4.6,0.79,4.0,0.82,4.4,0.85,4.9,0.88,4.2,0.92,4.6,0.95,4.0,
 0.06,4.5,0.08,4.2,0.09,4.8,0.1,4.3,0.11,4.6,0.12,4.95,0.13,4.35,0.14,4.6,0.15,4.2,0.16,4.75,0.17,4.4,0.18,4.65,0.19,4.1,0.2,4.5,0.21,4.8,0.22,4.3,0.23,4.55,0.26,4.4,0.28,4.7,0.3,4.3,0.34,4.65,0.39,4.3,0.45,4.6,0.53,4.5,0.58,4.3,0.63,4.65,0.67,4.2,0.73,4.5,0.8,4.7,0.87,4.5];
const ptsF1=[0.026,2.78,0.03,2.78,0.018,3.15,0.06,3.37,0.12,3.22,0.05,5.3,0.16,5.0,0.235,5.2,0.25,4.4,0.31,4.11,0.256,3.94,0.47,4.07,0.47,3.73,0.185,3.65,0.0,4.1,0.02,3.6,0.2,4.5,0.14,4.8,0.02,4.2,0.025,4.8,0.03,3.9,0.035,4.5,0.04,5.1,0.045,4.1,0.05,4.7,0.05,3.7,0.055,4.35,0.06,5.0,0.065,4.0,0.07,4.6,0.07,5.2,0.075,4.25,0.08,4.85,0.085,3.8,0.085,4.5,0.09,5.05,0.095,4.15,0.1,4.7,0.1,3.95,0.105,4.4,0.11,4.9,0.115,4.2,0.12,4.6,0.125,4.0,0.13,4.45,0.14,4.3,0.075,3.6,0.09,5.25,
 0.025,4.4,0.03,4.65,0.035,4.2,0.04,4.85,0.045,4.5,0.05,4.2,0.055,4.75,0.06,4.4,0.065,4.6,0.07,4.05,0.075,4.55,0.08,4.3,0.085,4.75,0.09,4.45,0.095,4.85,0.1,4.25,0.105,4.6,0.11,4.35,0.04,3.85,0.06,3.75,0.08,5.1,0.05,5.1];
const ptsF2=[0.065,2.78,0.08,2.78,0.11,3.12,0.21,3.2,0.22,3.2,0.07,3.57,0.172,5.3,0.23,5.23,0.276,5.04,0.317,4.32,0.36,4.49,0.45,4.75,0.075,4.0,0.09,3.7,0.38,4.5,0.3,4.9,0.28,3.7,0.1,4.2,0.105,3.8,0.11,4.6,0.115,4.0,0.12,5.0,0.125,4.35,0.13,3.7,0.135,4.75,0.14,4.1,0.145,4.55,0.15,3.9,0.155,5.1,0.16,4.4,0.165,4.0,0.17,4.8,0.175,4.25,0.18,4.6,0.185,3.85,0.19,5.0,0.195,4.45,0.2,4.15,0.205,4.7,0.21,4.35,0.215,5.15,0.22,4.05,0.23,4.55,0.24,4.85,0.25,4.3,0.26,4.65,0.27,4.2,0.28,4.9,0.29,4.45,0.3,4.6,0.32,4.75,0.34,4.4,0.16,3.6,
 0.12,4.5,0.13,4.2,0.14,4.65,0.15,4.35,0.16,4.7,0.165,4.2,0.17,4.5,0.18,4.85,0.185,4.35,0.19,4.6,0.2,4.4,0.21,4.75,0.22,4.45,0.23,4.2,0.24,4.6,0.25,4.75,0.26,4.4,0.27,4.6,0.28,4.35,0.13,3.95,0.17,3.8,0.2,5.05,0.25,5.0];
const ptsF3=[0.06,2.78,0.076,2.78,0.107,3.22,0.114,3.14,0.195,3.57,0.06,5.2,0.12,5.3,0.19,4.54,0.214,4.24,0.32,4.28,0.33,4.07,0.495,3.96,0.05,5.0,0.07,3.6,0.1,3.5,0.16,3.8,0.05,4.6,0.055,4.2,0.06,4.85,0.065,4.0,0.07,4.5,0.075,5.05,0.08,4.3,0.085,3.85,0.09,4.7,0.095,4.15,0.1,4.95,0.1,4.4,0.105,3.9,0.11,4.6,0.115,4.25,0.12,4.8,0.12,3.95,0.125,4.45,0.13,4.1,0.135,4.65,0.14,4.3,0.145,3.8,0.15,4.5,0.155,4.2,0.16,4.4,0.17,4.1,0.18,4.35,0.08,5.2,0.065,3.7,
 0.06,4.4,0.065,4.7,0.07,4.2,0.075,4.65,0.08,4.45,0.085,4.9,0.09,4.3,0.095,4.6,0.1,4.2,0.105,4.75,0.11,4.35,0.115,4.5,0.12,4.15,0.125,4.7,0.13,4.4,0.135,4.2,0.14,4.55,0.145,4.35,0.15,4.15,0.07,5.0,0.09,5.05,0.1,3.7,0.13,3.75];
const ptsF4=[0.0,2.78,0.0,3.15,0.0,3.22,0.035,3.4,0.093,3.4,0.07,5.25,0.09,5.3,0.2,5.1,0.21,4.58,0.248,4.8,0.267,3.2,0.306,4.41,0.364,4.11,0.0,3.6,0.12,3.7,0.15,4.9,0.18,4.3,0.0,4.2,0.0,4.7,0.005,5.0,0.01,3.9,0.015,4.45,0.02,4.9,0.025,4.1,0.03,4.6,0.035,5.15,0.04,3.8,0.045,4.35,0.05,4.8,0.055,4.0,0.06,4.5,0.065,5.05,0.07,4.2,0.075,4.65,0.08,3.9,0.085,4.4,0.09,4.85,0.095,4.15,0.1,4.55,0.105,4.3,0.11,4.75,0.115,4.0,0.12,4.45,0.13,4.25,0.14,4.6,0.05,3.65,
 0.0,4.45,0.0,4.9,0.005,4.05,0.01,4.6,0.015,4.25,0.02,4.7,0.025,4.45,0.03,4.2,0.035,4.8,0.04,4.5,0.045,4.15,0.05,4.6,0.055,4.35,0.06,4.75,0.065,4.3,0.07,4.5,0.075,4.1,0.08,4.65,0.085,4.3,0.09,4.55,0.095,4.2,0.1,4.7,0.105,4.45,0.01,5.1,0.04,5.05,0.06,3.8];
const ptsF5=[0.06,2.78,0.056,3.82,0.08,3.12,0.103,3.22,0.122,3.22,0.103,5.3,0.168,4.75,0.175,3.95,0.198,4.11,0.065,4.6,0.07,3.5,0.09,5.15,0.19,4.45,0.15,3.6,0.07,4.3,0.075,3.9,0.078,4.7,0.08,4.1,0.083,4.5,0.086,3.75,0.09,4.35,0.093,4.85,0.096,4.0,0.1,4.55,0.103,4.2,0.106,4.95,0.11,4.4,0.113,3.85,0.116,4.65,0.12,4.25,0.123,4.8,0.126,4.1,0.13,4.5,0.134,4.3,0.138,4.9,0.142,4.45,0.146,4.15,0.15,4.7,0.155,4.4,0.16,4.6,0.165,4.25,0.17,4.55,0.18,4.4,0.1,3.7,
 0.08,4.35,0.083,4.65,0.086,4.2,0.09,4.55,0.093,4.15,0.096,4.7,0.1,4.35,0.103,4.6,0.106,4.15,0.11,4.6,0.113,4.35,0.116,4.2,0.12,4.5,0.123,4.35,0.126,4.65,0.13,4.2,0.134,4.55,0.138,4.4,0.142,4.7,0.146,4.3,0.15,4.5,0.155,4.15,0.16,4.4,0.09,3.95,0.12,3.9];
const ptsF6=[0.22,2.78,0.33,3.15,0.28,3.4,0.6,3.2,0.63,3.2,0.4,5.3,0.7,5.25,0.78,4.54,0.86,4.79,0.83,5.0,0.25,4.3,0.3,3.7,0.36,3.5,0.45,5.2,0.65,3.8,0.33,4.2,0.34,4.7,0.35,3.9,0.36,4.45,0.37,5.0,0.38,4.1,0.39,4.6,0.4,3.8,0.41,4.35,0.42,4.85,0.43,4.05,0.44,4.55,0.45,4.25,0.46,4.75,0.47,3.95,0.48,4.45,0.49,5.05,0.5,4.2,0.51,4.6,0.52,4.35,0.53,4.85,0.54,4.0,0.55,4.5,0.56,4.3,0.57,4.7,0.58,4.15,0.6,4.5,0.62,4.3,0.64,4.65,0.67,4.4,0.72,4.5,0.75,4.3,
 0.36,4.2,0.37,4.55,0.38,4.35,0.39,4.8,0.4,4.25,0.41,4.6,0.42,4.4,0.43,4.65,0.44,4.3,0.45,4.5,0.46,4.15,0.47,4.6,0.48,4.3,0.49,4.7,0.5,4.45,0.51,4.25,0.52,4.6,0.53,4.4,0.54,4.7,0.55,4.25,0.57,4.45,0.59,4.6,0.61,4.35,0.4,5.0,0.45,3.9];

const ptsG0=[0.027,5.45,0.035,5.99,0.09,5.5,0.11,5.2,0.12,5.15,0.105,4.2,0.145,4.83,0.17,4.62,0.21,4.64,0.21,4.26,0.31,4.57,0.42,4.7,0.435,4.29,0.57,5.03,0.6,5.2,0.62,5.58,0.7,5.6,0.71,5.5,0.71,4.65,0.74,5.03,0.37,5.53,0.49,5.98,0.83,6.85,0.85,7.26,0.81,8.4,0.82,8.25,0.9,7.76,0.9,7.68,0.89,8.75,0.99,6.69,0.99,6.4,0.99,6.1,0.99,5.9,0.145,7.72,0.225,7.72,0.28,7.3,0.32,7.3,0.05,6.9,0.07,6.5,0.08,7.0,0.1,6.3,0.11,6.8,0.12,7.1,0.13,6.6,0.14,6.2,0.15,6.95,0.16,6.45,0.17,7.2,0.18,6.7,0.19,6.1,0.2,6.9,0.21,6.4,0.23,7.05,0.24,6.6,0.25,6.2,0.27,6.85,0.29,6.45,0.31,7.1,0.33,6.3,0.35,6.75,0.37,7.2,0.39,6.5,0.41,6.9,0.43,6.2,0.45,6.65,0.47,7.0,0.5,6.4,0.52,6.85,0.54,6.2,0.56,7.15,0.58,6.55,0.6,6.9,0.62,6.3,0.64,6.7,0.66,7.25,0.68,6.45,0.7,6.85,0.72,6.2,0.74,6.6,0.77,6.4,0.8,6.7,
 0.06,6.6,0.07,7.1,0.09,6.7,0.1,6.95,0.11,6.5,0.12,6.75,0.13,6.95,0.14,6.6,0.15,6.4,0.16,6.8,0.17,6.55,0.18,7.0,0.19,6.5,0.2,6.65,0.21,7.1,0.22,6.7,0.23,6.45,0.25,6.75,0.28,6.6,0.3,6.9,0.34,6.55,0.38,6.8,0.44,6.5,0.48,6.8,0.55,6.55,0.59,6.8,0.63,6.55,0.67,6.7,0.71,6.5,0.75,6.8];
const ptsG1=[0.023,8.75,0.008,8.42,0.023,8.17,0.004,7.1,0.03,5.5,0.033,5.45,0.056,4.21,0.06,4.62,0.07,5.12,0.08,5.12,0.1,5.12,0.12,5.12,0.134,4.92,0.147,4.62,0.16,4.78,0.166,4.7,0.108,5.58,0.12,5.6,0.134,5.86,0.14,6.93,0.145,6.9,0.153,6.6,0.19,6.52,0.2,6.36,0.25,6.19,0.253,6.0,0.237,4.26,0.25,4.82,0.258,6.93,0.262,6.88,0.31,6.63,0.37,7.07,0.47,6.77,0.47,6.65,0.0,7.8,0.02,6.5,0.025,7.2,0.03,6.0,0.035,6.8,0.04,7.4,0.04,6.3,0.045,6.95,0.05,5.9,0.05,6.6,0.055,7.15,0.06,6.2,0.06,6.85,0.065,7.4,0.07,6.45,0.07,7.0,0.075,6.1,0.08,6.7,0.08,7.25,0.085,6.35,0.09,6.9,0.09,5.95,0.095,7.1,0.1,6.55,0.1,6.15,0.105,6.8,0.11,7.3,0.11,6.4,0.115,6.95,0.12,6.3,0.125,6.7,0.13,7.1,0.14,6.5,
 0.03,6.7,0.035,6.4,0.04,6.9,0.045,6.6,0.05,7.1,0.055,6.4,0.06,6.7,0.065,6.9,0.07,6.6,0.075,7.1,0.08,6.4,0.085,6.85,0.09,6.6,0.095,6.35,0.1,6.9,0.105,6.6,0.11,6.2,0.115,6.6,0.12,6.9,0.06,6.0,0.08,6.0,0.05,7.35,0.09,7.4];
const ptsG2=[0.11,8.75,0.106,8.42,0.073,8.12,0.14,7.68,0.07,5.5,0.08,5.45,0.14,4.21,0.19,4.54,0.2,4.45,0.23,5.28,0.24,5.25,0.255,5.45,0.26,4.82,0.29,4.7,0.33,4.87,0.34,4.45,0.36,4.92,0.4,4.42,0.41,4.29,0.45,4.62,0.32,6.19,0.36,6.0,0.3,5.9,0.38,5.5,0.28,5.7,0.08,7.0,0.09,6.6,0.1,7.3,0.105,6.9,0.11,6.4,0.115,7.1,0.12,6.75,0.125,7.4,0.13,6.5,0.135,7.0,0.14,6.2,0.145,6.85,0.15,7.2,0.155,6.6,0.16,7.0,0.165,6.3,0.17,6.8,0.175,7.15,0.18,6.5,0.185,6.9,0.19,6.1,0.195,6.7,0.2,7.05,0.205,6.4,0.21,6.75,0.22,6.2,0.23,6.6,0.24,6.9,0.25,6.3,0.26,6.55,0.27,6.0,0.28,6.4,0.3,6.2,
 0.1,6.8,0.11,7.1,0.12,6.6,0.125,6.95,0.13,7.2,0.14,6.7,0.145,7.05,0.15,6.5,0.16,6.75,0.165,7.05,0.17,6.5,0.18,6.8,0.19,6.95,0.195,6.4,0.2,6.7,0.21,6.5,0.215,6.9,0.22,6.6,0.23,6.35,0.24,6.6,0.25,6.7,0.26,6.2,0.12,7.5,0.16,7.4];
const ptsG3=[0.11,8.78,0.083,8.42,0.055,4.32,0.076,4.21,0.08,4.2,0.1,4.62,0.11,4.95,0.18,4.62,0.2,6.77,0.214,6.52,0.33,7.1,0.3,6.19,0.495,6.77,0.05,5.5,0.06,5.0,0.07,5.3,0.12,5.5,0.15,5.2,0.09,7.7,0.13,7.6,0.06,6.5,0.065,7.1,0.07,6.2,0.075,6.8,0.08,7.3,0.085,6.4,0.09,6.95,0.095,6.0,0.1,6.7,0.1,7.4,0.105,6.3,0.11,6.85,0.115,7.2,0.12,6.55,0.125,6.1,0.13,6.9,0.135,7.35,0.14,6.6,0.145,6.25,0.15,7.0,0.155,6.7,0.16,6.4,0.165,7.1,0.17,6.8,0.18,6.5,0.09,5.8,0.12,7.6,
 0.07,6.7,0.075,6.45,0.08,6.9,0.085,6.6,0.09,7.2,0.095,6.5,0.1,6.95,0.105,6.65,0.11,7.1,0.115,6.45,0.12,6.8,0.125,7.05,0.13,6.6,0.135,6.8,0.14,7.1,0.145,6.55,0.15,6.8,0.155,7.05,0.16,6.65,0.08,6.0,0.11,6.1,0.1,7.5,0.14,7.4];
const ptsG4=[0.006,8.75,0.006,8.42,0.01,8.15,0.015,5.53,0.015,4.21,0.054,4.45,0.044,4.95,0.083,5.2,0.112,4.95,0.13,4.29,0.17,4.37,0.19,4.62,0.228,4.7,0.248,4.62,0.21,6.36,0.267,7.18,0.306,6.1,0.364,7.18,0.0,5.9,0.15,5.5,0.18,6.0,0.1,5.6,0.0,6.6,0.0,7.2,0.005,6.2,0.01,6.9,0.015,7.4,0.02,6.4,0.025,7.05,0.03,6.0,0.035,6.7,0.04,7.3,0.045,6.3,0.05,6.85,0.055,7.15,0.06,6.5,0.065,6.1,0.07,6.95,0.075,6.6,0.08,7.2,0.085,6.35,0.09,6.8,0.095,6.05,0.1,6.55,0.105,7.0,0.11,6.3,0.115,6.7,0.12,6.15,0.13,6.5,0.14,6.8,0.16,6.3,
 0.0,6.9,0.0,6.35,0.005,7.05,0.01,6.6,0.015,6.8,0.02,7.1,0.025,6.55,0.03,6.85,0.035,7.1,0.04,6.5,0.045,6.8,0.05,6.55,0.055,6.9,0.06,6.75,0.065,6.45,0.07,6.7,0.075,6.95,0.08,6.5,0.085,6.75,0.09,6.45,0.095,6.7,0.1,6.3,0.11,6.6,0.02,7.45,0.05,7.4,0.03,6.2];
const ptsG5=[0.087,8.78,0.062,8.42,0.06,8.17,0.056,5.53,0.058,5.45,0.08,5.12,0.098,4.95,0.105,4.66,0.108,4.6,0.095,4.25,0.097,4.2,0.122,4.54,0.138,4.87,0.156,4.95,0.168,4.62,0.15,4.37,0.17,6.77,0.198,7.02,0.187,5.94,0.06,7.6,0.07,7.3,0.18,5.6,0.065,6.8,0.07,6.4,0.075,7.1,0.078,6.6,0.08,7.35,0.083,6.2,0.086,6.9,0.09,6.5,0.093,7.2,0.096,6.0,0.1,6.75,0.103,6.35,0.106,7.0,0.11,6.55,0.113,6.15,0.116,6.85,0.12,6.45,0.123,7.1,0.126,6.25,0.13,6.7,0.134,5.95,0.138,6.5,0.142,6.9,0.146,6.2,0.15,6.6,0.155,6.35,0.16,6.0,0.165,6.5,0.17,6.2,0.178,6.4,
 0.07,7.0,0.073,6.6,0.077,6.85,0.08,6.45,0.084,7.0,0.088,6.7,0.092,6.35,0.095,6.9,0.098,6.55,0.102,6.9,0.105,6.2,0.108,6.7,0.112,6.45,0.115,6.65,0.12,6.3,0.124,6.6,0.128,6.85,0.132,6.4,0.136,6.6,0.14,6.3,0.145,6.45,0.15,6.2,0.155,6.5,0.08,7.2,0.1,7.15];
const ptsG6=[0.35,8.75,0.35,8.42,0.264,8.12,0.22,5.5,0.225,5.45,0.4,4.21,0.315,5.12,0.5,4.95,0.6,4.6,0.61,4.55,0.65,4.37,0.57,4.7,0.76,4.62,0.81,4.95,0.67,5.45,0.71,6.85,0.83,6.0,0.86,5.45,0.28,7.2,0.3,6.2,0.4,7.8,0.45,5.5,0.55,5.3,0.3,6.8,0.31,6.4,0.32,7.1,0.33,6.6,0.34,7.35,0.35,6.2,0.36,6.9,0.37,6.5,0.38,7.2,0.39,6.0,0.4,6.7,0.41,7.4,0.42,6.35,0.43,6.95,0.44,6.55,0.45,7.15,0.46,6.2,0.47,6.8,0.48,6.45,0.49,7.0,0.5,6.1,0.51,6.65,0.52,6.3,0.53,6.9,0.54,6.5,0.55,5.9,0.56,6.6,0.58,6.25,0.6,6.7,0.62,6.0,0.64,6.4,0.68,6.1,
 0.32,6.5,0.33,6.9,0.34,6.7,0.35,7.0,0.36,6.55,0.37,6.85,0.38,6.65,0.39,7.05,0.4,6.45,0.41,6.85,0.42,6.65,0.43,7.1,0.44,6.4,0.45,6.75,0.46,6.5,0.47,6.95,0.48,6.6,0.49,6.3,0.5,6.75,0.51,6.45,0.52,6.85,0.53,6.3,0.55,6.6,0.57,6.35,0.59,6.5];

// ---------- smooth fits [x, y, halfwidth, ...] ----------
const fitA0=[0.05,4.12,0.18,0.15,4.38,0.08,0.25,4.48,0.05,0.5,4.45,0.04,0.75,4.42,0.05,1.0,4.47,0.14];
const fitA1=[0.0,4.03,0.12,0.05,4.42,0.05,0.1,4.48,0.05,0.2,4.55,0.1,0.25,4.55,0.12,0.38,4.44,0.25,0.48,4.38,0.45];
const fitA2=[0.067,3.68,0.2,0.0875,4.19,0.12,0.12,4.42,0.06,0.16,4.5,0.05,0.2,4.46,0.05,0.228,4.41,0.05,0.254,4.5,0.06,0.348,4.54,0.18,0.447,4.6,0.6];
const fitA3=[0.046,4.5,0.15,0.064,4.38,0.07,0.094,4.46,0.05,0.112,4.5,0.05,0.142,4.41,0.06,0.3,4.41,0.15,0.484,4.6,0.72];
const fitA4=[0.0,4.27,0.15,0.029,4.54,0.07,0.049,4.46,0.05,0.1,4.48,0.05,0.169,4.52,0.08,0.206,4.5,0.1,0.27,4.34,0.2,0.366,4.04,0.55];
const fitA5=[0.055,4.13,0.2,0.077,4.34,0.08,0.1,4.54,0.06,0.106,4.52,0.06,0.12,4.42,0.05,0.148,4.44,0.06,0.172,4.36,0.12,0.197,4.28,0.3];
const fitA6=[0.217,3.13,0.3,0.261,3.6,0.15,0.313,4.11,0.1,0.357,4.38,0.06,0.443,4.56,0.05,0.487,4.46,0.05,0.574,4.41,0.05,0.7,4.4,0.08,0.843,4.4,0.2];
const fitB0=[0.034,2.56,0.55,0.15,2.3,0.3,0.25,2.1,0.25,0.39,1.57,0.25,0.5,1.7,0.22,0.62,2.05,0.22,0.83,2.14,0.25,0.98,2.33,0.45];
const fitB1=[0.0,1.04,0.6,0.07,1.99,0.3,0.09,2.37,0.25,0.108,2.12,0.25,0.185,2.37,0.35,0.3,2.6,0.5,0.39,2.46,0.6,0.47,2.14,0.8];
const fitB2=[0.07,1.7,0.5,0.15,1.76,0.3,0.2,2.08,0.25,0.245,2.02,0.3,0.317,2.75,0.45,0.4,3.6,0.9,0.45,3.69,1.4];
const fitB3=[0.048,0.47,0.8,0.083,1.7,0.4,0.131,2.08,0.3,0.167,2.56,0.35,0.214,2.6,0.4,0.31,2.37,0.6,0.405,1.99,1.2,0.488,1.9,2.0];
const fitB4=[0.0,1.99,0.3,0.083,2.08,0.3,0.122,2.4,0.35,0.17,2.37,0.4,0.21,2.08,0.5,0.267,1.61,0.75,0.364,1.14,1.3];
const fitB5=[0.056,0.38,0.8,0.075,1.99,0.45,0.091,2.22,0.3,0.1,1.99,0.3,0.115,2.37,0.3,0.138,2.33,0.3,0.168,2.18,0.35,0.198,1.7,0.6];
const fitB6=[0.22,1.27,0.7,0.332,1.7,0.35,0.417,2.08,0.25,0.485,2.33,0.25,0.554,2.18,0.25,0.64,2.03,0.3,0.724,2.56,0.5,0.826,3.69,1.0];
const fitC0=[0.034,5.25,0.3,0.137,5.57,0.12,0.265,5.7,0.1,0.47,5.65,0.08,0.73,5.57,0.1,0.99,5.7,0.15];
const fitC1=[0.0,5.54,0.15,0.05,5.68,0.08,0.07,5.6,0.08,0.1,5.73,0.08,0.185,5.97,0.15,0.235,6.02,0.2,0.31,6.0,0.25,0.39,5.84,0.3,0.47,5.71,0.45];
const fitC2=[0.07,5.2,0.3,0.12,5.68,0.12,0.152,5.79,0.1,0.2,5.63,0.08,0.255,5.52,0.1,0.297,5.68,0.15,0.36,6.0,0.25,0.44,6.32,0.45];
const fitC3=[0.055,5.41,0.2,0.09,5.47,0.1,0.12,5.73,0.08,0.155,5.79,0.1,0.214,5.73,0.15,0.333,5.76,0.3,0.495,5.82,0.9];
const fitC4=[0.006,5.31,0.3,0.035,5.68,0.12,0.083,5.73,0.08,0.112,5.7,0.08,0.209,5.68,0.15,0.364,5.52,0.4];
const fitC5=[0.056,5.22,0.3,0.075,5.41,0.15,0.091,5.63,0.1,0.102,5.73,0.08,0.122,5.68,0.08,0.152,5.73,0.1,0.198,5.79,0.3];
const fitC6=[0.22,4.34,0.4,0.28,5.2,0.2,0.332,5.63,0.1,0.4,5.73,0.08,0.5,5.76,0.07,0.6,5.71,0.08,0.7,5.76,0.1,0.86,5.82,0.2];
const fitD0=[0.034,3.7,0.25,0.265,3.83,0.08,0.47,3.8,0.07,0.68,3.69,0.08,0.86,3.7,0.12,0.99,3.76,0.2];
const fitD1=[0.0,3.83,0.3,0.03,3.45,0.15,0.056,3.67,0.1,0.082,3.92,0.08,0.108,3.9,0.08,0.185,3.92,0.1,0.287,3.97,0.15,0.39,3.88,0.2,0.47,3.7,0.3];
const fitD2=[0.07,2.73,0.4,0.1,3.4,0.15,0.152,3.7,0.08,0.2,3.83,0.07,0.276,3.97,0.08,0.36,4.16,0.12,0.45,4.3,0.25];
const fitD3=[0.055,3.69,0.2,0.083,3.67,0.1,0.12,3.83,0.08,0.167,3.88,0.1,0.333,3.88,0.2,0.495,3.86,0.55];
const fitD4=[0.006,3.45,0.2,0.054,3.73,0.08,0.112,3.92,0.07,0.19,4.07,0.08,0.228,4.09,0.1,0.286,3.97,0.15,0.364,3.78,0.3];
const fitD5=[0.056,3.02,0.35,0.075,3.4,0.15,0.098,3.67,0.08,0.122,3.78,0.07,0.152,3.99,0.08,0.168,4.07,0.1,0.198,3.88,0.2];
const fitD6=[0.22,2.02,0.35,0.28,2.73,0.2,0.332,3.3,0.12,0.383,3.64,0.08,0.468,3.78,0.07,0.6,3.92,0.07,0.7,3.99,0.08,0.86,3.92,0.2];
const fitE0=[0.034,5.56,0.35,0.163,5.38,0.15,0.29,4.97,0.12,0.39,4.85,0.12,0.57,4.85,0.12,0.73,4.85,0.15,0.88,5.03,0.25,0.99,5.38,0.4];
const fitE1=[0.0,6.1,0.7,0.018,5.3,0.3,0.044,4.85,0.2,0.07,5.12,0.15,0.095,5.65,0.15,0.133,5.47,0.15,0.21,5.3,0.2,0.287,5.3,0.25,0.364,5.38,0.35,0.47,5.3,0.55];
const fitE2=[0.07,4.05,0.4,0.12,4.85,0.15,0.172,5.2,0.12,0.235,5.38,0.12,0.317,5.5,0.2,0.45,5.83,0.6];
const fitE3=[0.055,4.05,0.5,0.083,4.67,0.25,0.107,4.94,0.2,0.131,5.3,0.18,0.167,5.65,0.2,0.214,5.74,0.25,0.31,5.69,0.3,0.405,5.56,0.55,0.495,5.33,0.9];
const fitE4=[0.006,4.58,0.3,0.035,4.94,0.15,0.073,5.38,0.15,0.112,5.56,0.12,0.19,5.65,0.15,0.248,5.92,0.25,0.306,6.27,0.4,0.36,6.99,0.7];
const fitE5=[0.056,4.05,0.4,0.075,4.5,0.2,0.091,4.94,0.15,0.102,5.12,0.12,0.118,5.2,0.12,0.137,5.65,0.12,0.168,6.1,0.2,0.198,6.54,0.5];
const fitE6=[0.22,3.0,0.5,0.28,3.96,0.25,0.332,4.5,0.15,0.417,4.85,0.12,0.485,5.3,0.12,0.554,5.47,0.12,0.7,5.65,0.15,0.86,6.18,0.35];
const fitF0=[0.034,4.2,0.2,0.11,4.32,0.1,0.19,4.35,0.08,0.29,4.24,0.08,0.39,4.28,0.08,0.62,4.35,0.08,0.78,4.3,0.1,0.99,4.05,0.25];
const fitF1=[0.005,4.01,0.25,0.026,3.99,0.12,0.07,4.32,0.08,0.087,4.45,0.08,0.108,4.32,0.08,0.185,4.38,0.12,0.287,4.46,0.18,0.364,4.28,0.22,0.47,3.88,0.35];
const fitF2=[0.07,3.82,0.3,0.12,4.03,0.12,0.172,4.24,0.1,0.2,4.38,0.08,0.235,4.35,0.08,0.276,4.49,0.1,0.338,4.58,0.15,0.45,4.55,0.4];
const fitF3=[0.055,4.49,0.25,0.083,4.37,0.1,0.12,4.24,0.08,0.155,4.3,0.1,0.214,4.27,0.15,0.31,4.22,0.35,0.405,4.11,0.6,0.495,3.96,0.9];
const fitF4=[0.006,4.11,0.2,0.025,4.37,0.1,0.064,4.35,0.08,0.103,4.28,0.08,0.15,4.35,0.12,0.2,4.47,0.15,0.248,4.45,0.2,0.306,4.24,0.3,0.364,3.9,0.45];
const fitF5=[0.056,3.35,0.35,0.072,4.03,0.15,0.087,4.35,0.1,0.1,4.35,0.08,0.122,4.32,0.08,0.138,4.45,0.08,0.168,4.54,0.12,0.198,4.52,0.2];
const fitF6=[0.22,3.06,0.45,0.28,3.69,0.2,0.332,4.11,0.12,0.4,4.35,0.08,0.5,4.35,0.07,0.6,4.37,0.08,0.7,4.45,0.12,0.86,4.79,0.3];
const fitG0=[0.04,6.22,0.2,0.25,6.47,0.08,0.42,6.55,0.07,0.6,6.47,0.07,0.79,6.64,0.1,0.99,7.02,0.3];
const fitG1=[0.0,7.8,0.4,0.017,7.02,0.2,0.036,6.57,0.12,0.069,6.47,0.1,0.097,6.6,0.1,0.12,6.19,0.12,0.147,5.94,0.15,0.2,5.74,0.2,0.25,5.73,0.25,0.3,5.94,0.3,0.39,6.52,0.4,0.47,6.93,0.5];
const fitG2=[0.07,6.93,0.2,0.12,6.97,0.1,0.172,6.85,0.1,0.214,6.64,0.1,0.255,6.3,0.12,0.317,5.78,0.2,0.38,5.1,0.4,0.45,4.3,0.8];
const fitG3=[0.055,5.03,0.5,0.083,6.43,0.25,0.107,6.85,0.12,0.131,6.93,0.1,0.167,6.8,0.12,0.214,6.73,0.15,0.31,6.73,0.3,0.405,6.8,0.5,0.495,6.85,0.8];
const fitG4=[0.006,6.77,0.2,0.044,6.64,0.12,0.083,6.57,0.1,0.112,6.36,0.12,0.15,6.02,0.15,0.19,5.78,0.18,0.228,5.7,0.2,0.267,5.78,0.25,0.306,6.19,0.35,0.364,7.18,0.5];
const fitG5=[0.056,7.02,0.3,0.075,6.85,0.15,0.091,6.6,0.12,0.106,6.4,0.1,0.122,6.44,0.1,0.138,6.27,0.1,0.16,6.1,0.12,0.177,6.14,0.2,0.198,6.6,0.4];
const fitG6=[0.22,6.19,0.45,0.28,6.6,0.2,0.33,6.8,0.12,0.4,6.69,0.1,0.468,6.6,0.1,0.52,6.69,0.1,0.57,6.36,0.12,0.67,5.94,0.18,0.776,5.6,0.3,0.86,5.45,0.5];

// ---------- assemble tables ----------
const PTS = [
 [ptsA0,ptsA1,ptsA2,ptsA3,ptsA4,ptsA5,ptsA6],
 [ptsB0,ptsB1,ptsB2,ptsB3,ptsB4,ptsB5,ptsB6],
 [ptsC0,ptsC1,ptsC2,ptsC3,ptsC4,ptsC5,ptsC6],
 [ptsD0,ptsD1,ptsD2,ptsD3,ptsD4,ptsD5,ptsD6],
 [ptsE0,ptsE1,ptsE2,ptsE3,ptsE4,ptsE5,ptsE6],
 [ptsF0,ptsF1,ptsF2,ptsF3,ptsF4,ptsF5,ptsF6],
 [ptsG0,ptsG1,ptsG2,ptsG3,ptsG4,ptsG5,ptsG6]];
const FIT = [
 [fitA0,fitA1,fitA2,fitA3,fitA4,fitA5,fitA6],
 [fitB0,fitB1,fitB2,fitB3,fitB4,fitB5,fitB6],
 [fitC0,fitC1,fitC2,fitC3,fitC4,fitC5,fitC6],
 [fitD0,fitD1,fitD2,fitD3,fitD4,fitD5,fitD6],
 [fitE0,fitE1,fitE2,fitE3,fitE4,fitE5,fitE6],
 [fitF0,fitF1,fitF2,fitF3,fitF4,fitF5,fitF6],
 [fitG0,fitG1,fitG2,fitG3,fitG4,fitG5,fitG6]];
const COR = [corA,corB,corC,corD,corE,corF,corG];
const PV  = [pA,pB,pC,pD,pE,pF,pG];

// ---------- layout ----------
const rowTop  = [0,186,371,557,742,927,1108];
const rowLeft = [61,55,55,55,55,55,55];
const letterTop = [2.4,3.4,3.8,3.4,3.8,3.8,7.4];
const PANEL_RIGHT = 1014, GAP = 4.8, PANEL_TOP = 38, PANEL_H = 126, STRIP_H = 13, SIDE_W = 12;
const FONT = "'Liberation Sans', Arial, Helvetica, sans-serif";

const fig = document.getElementById("fig");
function el(cls, css, text) {
  const d = document.createElement("div");
  d.className = cls; Object.assign(d.style, css);
  if (text !== undefined) d.textContent = text;
  fig.appendChild(d); return d;
}
function pairs(a){const o=[];for(let i=0;i<a.length;i+=2)o.push({x:a[i],y:a[i+1]});return o;}
function fitRows(a){const o=[];for(let i=0;i<a.length;i+=3)o.push({x:a[i],y:a[i+1],lo:a[i+1]-a[i+2],hi:a[i+1]+a[i+2]});return o;}
function minorTicks(major, dom){
  const s = major[1]-major[0], out=[];
  for (let v = major[0]-s; v <= major[major.length-1]+s+1e-9; v += s/2) {
    if (v >= dom[0]-1e-9 && v <= dom[1]+1e-9) out.push(+v.toFixed(6));
  }
  return out;
}

for (let r = 0; r < 7; r++) {
  const top = rowTop[r], left = rowLeft[r];
  const pw = (PANEL_RIGHT - left - 6*GAP)/7;
  el("t", {left:"3px", top:(top+letterTop[r])+"px", fontSize:"20px", fontWeight:"bold", lineHeight:"20px", color:"#000"}, letters[r]);
  el("t", {left:(26-150)+"px", top:(top+PANEL_TOP+PANEL_H/2-5)+"px", width:"300px", textAlign:"center", fontSize:"8.7px", lineHeight:"10px", color:"#000", transform:"rotate(-90deg)"}, genes[r]+" Expression Level (log2 TPM)");
  el("strip", {left:(left-SIDE_W)+"px", top:(top+PANEL_TOP)+"px", width:(SIDE_W+1)+"px", height:PANEL_H+"px"});
  el("t", {left:(left-SIDE_W/2-30)+"px", top:(top+PANEL_TOP+PANEL_H/2-5)+"px", width:"60px", textAlign:"center", fontSize:"7.2px", lineHeight:"10px", color:"#1a1a1a", transform:"rotate(-90deg)"}, cancer);
  el("t", {left:((left+PANEL_RIGHT)/2-100)+"px", top:(top+176.5)+"px", width:"200px", textAlign:"center", fontSize:"8.7px", lineHeight:"10px", color:"#000"}, xTitle);

  for (let c = 0; c < 7; c++) {
    const x0 = left + c*(pw+GAP);
    el("strip", {left:x0+"px", top:(top+25)+"px", width:pw+"px", height:(STRIP_H+1)+"px"}, cellTypes[c]);
    const ml = c === 0 ? 42 : 10, mr = 10, mb = 18;
    const xT = xTicks[c], yT = yTicks[r];
    const lab = (c === 0 ? "cor = " : "partial.cor = ") + COR[r][c] + "\np = " + PV[r][c];
    const marks = [
      Plot.frame({fill:"white", stroke:null}),
      Plot.gridX(minorTicks(xT, xDomains[c]), {stroke:"#EDEDED", strokeOpacity:1, strokeWidth:0.6}),
      Plot.gridY(minorTicks(yT, yDomains[r]), {stroke:"#EDEDED", strokeOpacity:1, strokeWidth:0.6}),
      Plot.gridX(xT, {stroke:"#E6E6E6", strokeOpacity:1, strokeWidth:1}),
      Plot.gridY(yT, {stroke:"#E6E6E6", strokeOpacity:1, strokeWidth:1}),
      Plot.dot(pairs(PTS[r][c]), {x:"x", y:"y", r:2.1, fill:"#1c1c1c", stroke:null, clip:true}),
      Plot.areaY(fitRows(FIT[r][c]), {x:"x", y1:"lo", y2:"hi", fill:"#999999", fillOpacity:0.4, curve:"catmull-rom", clip:true}),
      Plot.line(fitRows(FIT[r][c]), {x:"x", y:"y", stroke:"#3366FF", strokeWidth:1.25, curve:"catmull-rom", clip:true}),
      Plot.text([lab], {text:d=>d, frameAnchor:"top-right", textAnchor:"end", lineAnchor:"top", lineHeight:0.9, dx:-1.5, dy:3.8, fill:"#FF0000", fontSize:9.2}),
      Plot.frame({stroke:"#7a7a7a", strokeWidth:1}),
      Plot.axisX(xT, {tickFormat:d3.format(xTickFormats[c]), tickSize:2.7, tickPadding:1.2, fontSize:7.5, fill:"#4D4D4D", stroke:"#333", label:null})
    ];
    if (c === 0) marks.push(Plot.axisY(yT, {tickFormat:d3.format(yTickFormats[r]), tickSize:2.7, tickPadding:1.2, dx:-SIDE_W, fontSize:7.5, fill:"#4D4D4D", stroke:"#333", label:null}));
    const svg = Plot.plot({
      width: pw+ml+mr, height: PANEL_H+mb,
      marginLeft: ml, marginRight: mr, marginTop: 0, marginBottom: mb,
      x: {domain: xDomains[c], label: null},
      y: {domain: yDomains[r], label: null, axis: c === 0 ? undefined : null},
      style: {fontFamily: FONT, background: "transparent", overflow: "visible"},
      marks
    });
    svg.style.left = (x0-ml)+"px";
    svg.style.top = (top+PANEL_TOP)+"px";
    fig.appendChild(svg);
  }
}
</script></body></html>
